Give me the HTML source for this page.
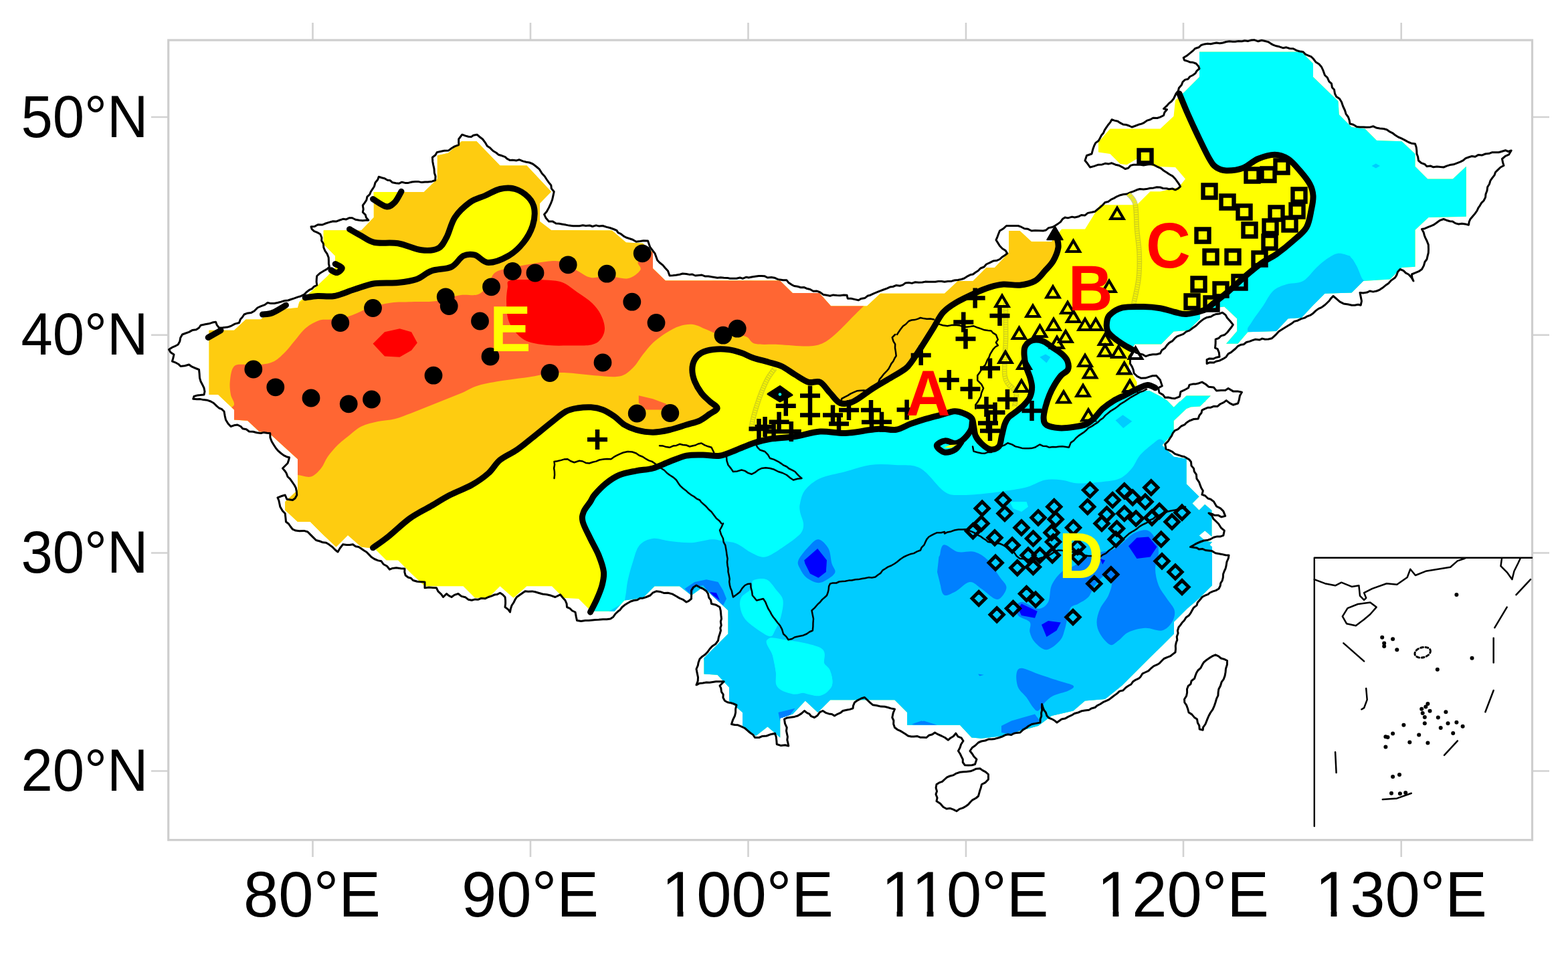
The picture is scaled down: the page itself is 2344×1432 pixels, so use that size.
<!DOCTYPE html>
<html lang="en">
<head>
<meta charset="utf-8">
<title>China regional map</title>
<style>
html,body{margin:0;padding:0;background:#fff;}
body{width:2344px;height:1432px;overflow:hidden;}
svg{display:block;}
.ax{font-family:"Liberation Sans",Arial,Helvetica,sans-serif;fill:#000;}
.lt{font-family:"Liberation Sans",Arial,Helvetica,sans-serif;font-weight:bold;}
</style>
</head>
<body>
<svg xmlns="http://www.w3.org/2000/svg" width="2344" height="1432" viewBox="0 0 2344 1432">
<rect width="2344" height="1432" fill="#fff"/>
<defs><clipPath id="land">
<path d="M312.5,590 L312.5,493.8 L350,493.8 L367.5,477.5 L390,477.5 L405,463.8 L445,460 L447.5,451.2 L465,436.2 L490,412.5 L501.2,400 L501.2,382.5 L483.8,365 L483.8,344.5 L540,344.5 L558.8,325 L558.8,287 L633.8,287 L653.8,267.5 L653.8,232.5 L670,228.8 L690,211.2 L712.5,211.2 L747.5,247.5 L787.5,247.5 L824,286.5 L807,304 L807,331 L824,344 L914.8,344.5 L936,362.5 L961,363.8 L976,377.5 L976,401.2 L994.8,419.5 L1166,419.5 L1184.8,438 L1224.8,438 L1242.2,457.5 L1296,457.5 L1316,438.8 L1412,438.8 L1432,420 L1454.5,420 L1474.5,400 L1487,400 L1508.2,377.5 L1508.2,345 L1524.5,345 L1542,361.2 L1572,361.2 L1587,342.5 L1622,342.5 L1644.5,306.2 L1699.5,306.2 L1719.5,286.2 L1734.5,286.2 L1762,280 L1772,267.5 L1757,250 L1724.5,248.8 L1699.5,237.5 L1684.5,246.2 L1674.5,245 L1659.5,230 L1642,227.5 L1642,212.5 L1659.5,192.5 L1734.5,192.5 L1754.5,173.8 L1757,150 L1770.5,137.5 L1793,115 L1793,77.5 L1945.5,77.5 L1963,95 L1963,115 L2000.5,151.2 L2001.8,171.2 L2020.5,190 L2040.5,192.5 L2058,210 L2095.5,211.2 L2115.5,230 L2115.5,248.8 L2134.2,267.5 L2171.8,267.5 L2191.8,248.8 L2191.8,323.8 L2135.5,325 L2115.5,343.8 L2115.5,398.8 L2095.5,400 L2078,417.5 L2038,420 L2020.5,437.5 L1980.5,438.8 L1963,456.2 L1945.5,475 L1925.5,476.2 L1908,495 L1865.5,496.2 L1850.5,513.8 L1833,513.8 L1849.2,495 L1849.2,476.2 L1830.5,458.8 L1830.3,458.5 L1823,459.2 L1802.7,463.6 L1794,469.4 L1794,476.6 L1776.5,494.1 L1754.7,495.5 L1735.9,514.4 L1696.6,514.4 L1689.4,524.6 L1687.9,550.7 L1699.5,571.1 L1699.5,584.1 L1718.4,584.1 L1733,591.4 L1744.6,598.6 L1754.7,608.8 L1773.6,591.4 L1809.9,591.4 L1794,607.4 L1775.1,608.8 L1760.6,623.3 L1744.6,600 L1754.7,608.7 L1763.5,600 L1802.7,600 L1773.6,610.9 L1754.7,629 L1754.7,646.5 L1737.3,665.4 L1754.7,682.8 L1773.6,685.7 L1773.6,723.5 L1792.5,742.3 L1782.3,752.5 L1792.5,762.7 L1801.2,754 L1811.4,762.7 L1811.4,801.9 L1801.2,793.2 L1792.5,800.4 L1785.2,808 L1812,810 L1792,835 L1772,817.5 L1792,800 L1812,817.5 L1812,875 L1792,895 L1774.5,910 L1755,929.5 L1755,947.5 L1737,965.5 L1719.5,982.5 L1677,1025 L1652,1045 L1622,1047.5 L1604.5,1062.5 L1572,1070 L1552,1085 L1525,1092.5 L1500,1100 L1467.5,1103.8 L1452.5,1102.5 L1435,1083.8 L1356.2,1083.8 L1356.2,1065 L1337.5,1046.2 L1241.2,1046.2 L1222.5,1065 L1203.8,1047.5 L1185,1067.5 L1166.2,1073.8 L1166.2,1102.5 L1147.5,1086.2 L1130,1100 L1110,1085 L1110,1065 L1090,1047.5 L1090,1027.5 L1072.5,1008.8 L1052.5,1007.5 L1052.5,987.5 L1052.2,983.8 L1088.5,947.5 L1088.5,912.5 L1051,877.5 L1033.5,890 L1016,876.2 L978.5,876.2 L961,893.8 L933.5,897.5 L918.5,913.8 L888.5,913.8 L880,910 L865,895 L842.5,893.8 L825,876.2 L787.5,876.2 L767.5,893.8 L747.5,876.2 L730,893.8 L710,893.8 L692.5,876.2 L635,876.2 L615,857.5 L595,837.5 L577.5,837.5 L560,820 L540,817.5 L520,800 L502.5,817.5 L482.5,798.8 L463.8,780 L445,780 L426.2,762.5 L426.2,750 L445,732.5 L445,700 L445,727.5 L445,686.2 L402.5,647.5 L387.5,645 L370,628.8 L350,627.5 L350,612.5 L326.2,590Z"/>
</clipPath>
<clipPath id="frame"><rect x="251.7" y="60" width="2038.8" height="1195.6"/></clipPath>
</defs>
<g stroke="#d2d2d2" stroke-width="2.6" fill="none">
<path d="M467.5,34 V60 M467.5,1255.6 V1281"/>
<path d="M793,34 V60 M793,1255.6 V1281"/>
<path d="M1118.5,34 V60 M1118.5,1255.6 V1281"/>
<path d="M1444,34 V60 M1444,1255.6 V1281"/>
<path d="M1769,34 V60 M1769,1255.6 V1281"/>
<path d="M2094.7,34 V60 M2094.7,1255.6 V1281"/>
<path d="M226,175 H251.7 M2290.5,175 H2316"/>
<path d="M226,500.7 H251.7 M2290.5,500.7 H2316"/>
<path d="M226,826.5 H251.7 M2290.5,826.5 H2316"/>
<path d="M226,1152.5 H251.7 M2290.5,1152.5 H2316"/>
</g>
<rect x="251.7" y="60" width="2038.8" height="1195.6" fill="none" stroke="#cecece" stroke-width="3.2"/>
<g clip-path="url(#land)">
<rect x="250" y="50" width="2050" height="1210" fill="#ffff00"/>
<path d="M882.5,915 C884.2,911.7 889.6,901.7 892.5,895 C895.4,888.3 898.3,881.7 900,875 C901.7,868.3 903.3,862.5 902.5,855 C901.7,847.5 898.3,838.3 895,830 C891.7,821.7 886.5,813.3 882.5,805 C878.5,796.7 872.9,786.7 871.2,780 C869.5,773.3 870.6,770.0 872.5,765 C874.4,760.0 879.8,754.2 882.5,750 C885.2,745.8 884.6,744.6 888.5,740 C892.4,735.4 899.8,727.5 906,722.5 C912.2,717.5 918.5,713.1 926,710 C933.5,706.9 942.7,705.5 951,703.8 C959.3,702.1 967.7,702.3 976,700 C984.3,697.7 992.7,693.1 1001,690 C1009.3,686.9 1017.7,682.9 1026,681.2 C1034.3,679.5 1042.7,680.0 1051,680 C1059.3,680.0 1067.7,682.5 1076,681.2 C1084.3,680.0 1092.7,675.6 1101,672.5 C1109.3,669.4 1117.7,665.2 1126,662.5 C1134.3,659.8 1140.6,657.9 1151,656.2 C1161.4,654.5 1176.0,654.4 1188.5,652.5 C1201.0,650.6 1213.5,645.8 1226,645 C1238.5,644.2 1251.0,647.9 1263.5,647.5 C1276.0,647.1 1291.9,643.6 1301,642.5 C1310.1,641.4 1311.5,640.9 1317.9,640.9 C1324.4,640.9 1332.5,643.5 1339.7,642.3 C1347.0,641.1 1354.2,636.2 1361.4,633.6 C1368.7,631.0 1375.9,628.6 1383.2,626.4 C1390.5,624.2 1397.7,622.5 1405,620.6 C1412.3,618.7 1420.8,615.1 1426.8,614.7 C1432.8,614.3 1436.7,616.2 1441,618 C1445.3,619.8 1450.2,622.1 1452.6,625.2 C1455.0,628.4 1454.5,632.5 1455.5,636.9 C1456.5,641.3 1456.5,647.0 1458.4,651.4 C1460.3,655.8 1463.5,659.6 1467.1,663 C1470.7,666.4 1475.8,671.0 1480.2,671.7 C1484.6,672.4 1490.4,670.8 1493.3,667.4 C1496.2,664.0 1496.1,657.0 1497.6,651.4 C1499.0,645.8 1500.3,638.6 1502,634 C1503.7,629.4 1504.9,626.9 1507.8,623.8 C1510.7,620.6 1515.5,618.2 1519.4,615.1 C1523.3,612.0 1527.7,608.5 1531.1,604.9 C1534.5,601.3 1537.9,597.6 1539.8,593.3 C1541.7,588.9 1542.7,583.6 1542.7,578.8 C1542.7,573.9 1541.2,569.3 1539.8,564.2 C1538.3,559.1 1535.5,553.9 1534,548.3 C1532.5,542.7 1531.3,535.9 1531.1,530.8 C1530.8,525.7 1530.6,521.4 1532.5,517.8 C1534.4,514.2 1538.4,510.3 1542.7,509 C1547.0,507.7 1553.5,508.1 1558.6,509.8 C1563.7,511.5 1568.3,515.9 1573.2,519.2 C1578.1,522.5 1584.0,526.0 1587.7,529.4 C1591.5,532.8 1594.2,535.6 1595.7,539.5 C1597.2,543.4 1598.0,549.0 1596.4,552.6 C1594.8,556.2 1589.6,557.4 1586.2,561.3 C1582.8,565.2 1579.0,571.0 1576.1,575.9 C1573.2,580.8 1571.0,585.1 1568.8,590.4 C1566.6,595.7 1564.5,602.0 1563,607.8 C1561.5,613.6 1559.8,620.6 1560.1,625.2 C1560.3,629.8 1560.6,633.0 1564.5,635.4 C1568.4,637.8 1576.5,639.3 1583.3,639.8 C1590.1,640.3 1598.3,639.3 1605.1,638.3 C1611.9,637.3 1618.9,636.2 1624,634 C1629.1,631.8 1631.5,629.1 1635.6,625.2 C1639.7,621.3 1643.8,615.1 1648.7,610.7 C1653.6,606.4 1659.1,602.5 1664.7,599.1 C1670.3,595.7 1676.3,593.3 1682.1,590.4 C1687.9,587.5 1693.9,584.2 1699.5,581.7 C1705.1,579.2 1710.9,575.7 1715.5,575.4 C1720.1,575.1 1725.2,579.1 1727.1,579.8 L1735,572 L2400,572 L2400,1400 L880,1400 L880,930Z" fill="#00ffff"/>
<path d="M1763,140 C1765.1,145.0 1770.9,159.6 1775.5,170 C1780.1,180.4 1785.1,191.2 1790.5,202.5 C1795.9,213.8 1803.4,229.6 1808,237.5 C1812.6,245.4 1813.8,247.1 1818,250 C1822.2,252.9 1826.3,254.8 1833,255 C1839.7,255.2 1850.1,254.1 1858,251.2 C1865.9,248.3 1872.6,240.8 1880.5,237.5 C1888.4,234.2 1898.0,231.2 1905.5,231.2 C1913.0,231.2 1919.2,233.5 1925.5,237.5 C1931.8,241.5 1937.6,248.8 1943,255 C1948.4,261.2 1954.7,268.8 1958,275 C1961.3,281.2 1962.6,286.2 1963,292.5 C1963.4,298.8 1962.2,304.6 1960.5,312.5 C1958.8,320.4 1957.6,332.1 1953,340 C1948.4,347.9 1940.5,353.3 1933,360 C1925.5,366.7 1915.7,374.6 1908,380 C1900.3,385.4 1894.7,387.1 1887,392.5 C1879.3,397.9 1870.3,405.4 1862,412.5 C1853.7,419.6 1845.3,427.9 1837,435 C1828.7,442.1 1818.2,450.2 1812,455 C1805.8,459.8 1806.2,461.2 1799.8,463.6 C1793.4,466.0 1780.9,468.9 1773.6,469.4 C1766.3,469.9 1762.7,467.9 1756.2,466.5 C1749.7,465.1 1742.2,462.0 1734.4,460.7 C1726.7,459.4 1719.1,458.6 1709.7,458.5 C1700.3,458.4 1686.3,457.8 1677.8,459.9 C1669.3,461.9 1662.8,467.0 1658.9,470.8 C1655.0,474.6 1655.0,478.4 1654.5,482.5 C1654.0,486.6 1654.1,491.6 1656,495.5 C1657.9,499.4 1662.0,502.3 1666.1,505.7 C1670.2,509.1 1676.1,513.0 1680.7,515.9 C1685.3,518.8 1691.5,521.9 1693.7,523.1 L1700,528 L1760,566 L2400,566 L2400,-50 L1762,-50Z" fill="#00ffff"/>
<path d="M557.5,818.8 C561.2,816.1 570.8,809.8 580,802.5 C589.2,795.2 602.1,782.5 612.5,775 C622.9,767.5 632.5,763.3 642.5,757.5 C652.5,751.7 662.1,745.4 672.5,740 C682.9,734.6 695.4,730.4 705,725 C714.6,719.6 722.9,713.8 730,707.5 C737.1,701.2 740.4,693.3 747.5,687.5 C754.6,681.7 764.6,677.9 772.5,672.5 C780.4,667.1 786.1,662.1 795,655 C803.9,647.9 817.5,636.7 826,630 C834.5,623.3 839.8,618.3 846,615 C852.2,611.7 857.2,611.0 863.5,610 C869.8,609.0 877.2,608.4 883.5,608.8 C889.8,609.2 895.2,610.2 901,612.5 C906.8,614.8 913.1,618.8 918.5,622.5 C923.9,626.2 928.1,631.7 933.5,635 C938.9,638.3 943.9,640.6 951,642.5 C958.1,644.4 967.7,646.2 976,646.2 C984.3,646.2 992.7,644.4 1001,642.5 C1009.3,640.6 1018.5,637.3 1026,635 C1033.5,632.7 1040.2,631.5 1046,628.8 C1051.8,626.1 1056.6,621.9 1061,618.8 C1065.4,615.7 1072.2,613.1 1072.2,610 C1072.2,606.9 1065.0,603.8 1061,600 C1057.0,596.2 1052.2,592.5 1048.5,587.5 C1044.8,582.5 1040.8,575.8 1038.5,570 C1036.2,564.2 1034.8,557.9 1034.8,552.5 C1034.8,547.1 1036.2,541.7 1038.5,537.5 C1040.8,533.3 1043.9,530.0 1048.5,527.5 C1053.1,525.0 1059.3,523.3 1066,522.5 C1072.7,521.7 1081.4,521.7 1088.5,522.5 C1095.6,523.3 1102.2,525.4 1108.5,527.5 C1114.8,529.6 1119.3,532.7 1126,535 C1132.7,537.3 1141.4,539.1 1148.5,541.2 C1155.6,543.3 1161.8,544.4 1168.5,547.5 C1175.2,550.6 1181.8,556.0 1188.5,560 C1195.2,564.0 1202.2,569.3 1208.5,571.2 C1214.8,573.1 1220.6,568.5 1226,571.2 C1231.4,573.9 1236.0,582.3 1241,587.5 C1246.0,592.7 1250.2,600.4 1256,602.5 C1261.8,604.6 1267.8,603.7 1276,600 C1284.2,596.3 1296.7,585.8 1305.2,580.4 C1313.7,575.0 1319.0,572.2 1327,567.4 C1335.0,562.6 1347.2,556.0 1353.2,551.4 C1359.2,546.8 1359.2,545.4 1363.3,539.8 C1367.4,534.2 1372.6,526.2 1377.9,518 C1383.2,509.8 1390.0,498.9 1395.3,490.4 C1400.6,481.9 1404.2,473.4 1409.8,467.1 C1415.4,460.8 1420.7,457.4 1428.7,452.6 C1436.7,447.8 1449.2,442.0 1457.7,438.1 C1466.2,434.2 1472.5,431.6 1479.5,429.4 C1486.5,427.2 1492.5,425.5 1500,425 C1507.5,424.5 1516.7,427.0 1524.5,426.2 C1532.3,425.4 1540.8,423.5 1547,420 C1553.2,416.5 1557.4,410.0 1562,405 C1566.6,400.0 1571.2,395.8 1574.5,390 C1577.8,384.2 1581.1,375.8 1582,370 C1582.9,364.2 1580.3,357.5 1580,355 L1579,345 L1579,-50 L-50,-50 L-50,1100 L555,1100Z" fill="#fecc10"/>
<path d="M522.5,342.5 C525.4,344.2 533.8,349.2 540,352.5 C546.2,355.8 550.8,360.6 560,362.5 C569.2,364.4 583.3,361.9 595,363.8 C606.7,365.7 620.0,372.6 630,373.8 C640.0,375.0 648.8,374.3 655,371.2 C661.2,368.1 663.3,362.7 667.5,355 C671.7,347.3 674.2,333.8 680,325 C685.8,316.2 695.0,307.9 702.5,302.5 C710.0,297.1 717.5,295.8 725,292.5 C732.5,289.2 740.0,284.2 747.5,282.5 C755.0,280.8 762.9,280.4 770,282.5 C777.1,284.6 785.2,290.0 790,295 C794.8,300.0 797.8,305.4 798.8,312.5 C799.8,319.6 798.9,329.2 796.2,337.5 C793.5,345.8 788.5,355.0 782.5,362.5 C776.5,370.0 768.8,377.5 760,382.5 C751.2,387.5 738.3,392.7 730,392.5 C721.7,392.3 716.2,382.9 710,381.2 C703.8,379.5 698.3,379.6 692.5,382.5 C686.7,385.4 682.9,395.1 675,398.8 C667.1,402.6 653.8,401.9 645,405 C636.2,408.1 630.8,414.6 622.5,417.5 C614.2,420.4 605.4,421.4 595,422.5 C584.6,423.6 570.8,422.1 560,423.8 C549.2,425.5 540.0,429.4 530,432.5 C520.0,435.6 509.2,440.8 500,442.5 C490.8,444.2 482.3,442.1 475,442.5 C467.7,442.9 459.3,444.6 456.2,445 L440,460 L420,400 L440,335Z" fill="#ffff00"/>
<path d="M556.2,285 L601.2,285 L590,302.5 L577.5,308.8 L557.5,297.5Z" fill="#ffff00"/>
<path d="M400,467.5 L415,455 L430,457.5 L412.5,468.8Z" fill="#ffff00"/>
<path d="M500,395 L515,400 L505,407.5Z" fill="#ffff00"/>
<path d="M350,547.5 C354.4,543.3 363.3,545.4 370,545 C376.7,544.6 383.3,545.8 390,545 C396.7,544.2 403.8,543.3 410,540 C416.2,536.7 422.5,530.0 427.5,525 C432.5,520.0 435.0,515.8 440,510 C445.0,504.2 451.2,495.2 457.5,490 C463.8,484.8 471.2,480.9 477.5,478.8 C483.8,476.7 487.5,478.6 495,477.5 C502.5,476.4 512.9,475.4 522.5,472.5 C532.1,469.6 542.1,463.3 552.5,460 C562.9,456.7 574.6,454.0 585,452.5 C595.4,451.0 603.8,451.6 615,451.2 C626.2,450.8 640.4,451.7 652.5,450 C664.6,448.3 677.1,442.9 687.5,441.2 C697.9,439.5 707.9,442.7 715,440 C722.1,437.3 725.8,430.4 730,425 C734.2,419.6 734.2,411.7 740,407.5 C745.8,403.3 750.7,402.9 765,400 C779.3,397.1 812.5,390.8 826,390 C839.5,389.2 839.8,392.5 846,395 C852.2,397.5 857.2,401.7 863.5,405 C869.8,408.3 876.0,413.8 883.5,415 C891.0,416.2 899.3,412.3 908.5,412.5 C917.7,412.7 930.4,417.6 938.5,416.2 C946.6,414.8 954.7,407.8 957.2,403.8 C959.7,399.9 952.9,395.2 953.5,392.5 C954.1,389.8 957.7,390.2 961,387.5 C964.3,384.8 969.3,379.9 973.5,376.2 C977.7,372.4 968.9,364.4 986,365 C1003.1,365.6 1044.3,373.8 1076,380 C1107.7,386.2 1146.8,395.0 1176,402.5 C1205.2,410.0 1231.8,418.3 1251,425 C1270.2,431.7 1283.8,437.5 1291,442.5 C1298.2,447.5 1294.0,452.5 1294,455 C1294.0,457.5 1294.8,453.8 1291,457.5 C1287.2,461.2 1277.7,470.8 1271,477.5 C1264.3,484.2 1257.7,491.7 1251,497.5 C1244.3,503.3 1238.1,509.2 1231,512.5 C1223.9,515.8 1219.8,517.1 1208.5,517.5 C1197.2,517.9 1176.8,515.6 1163.5,515 C1150.2,514.4 1136.8,515.9 1128.5,513.8 C1120.2,511.7 1122.2,504.8 1113.5,502.5 C1104.8,500.2 1085.6,501.7 1076,500 C1066.4,498.3 1062.7,495.0 1056,492.5 C1049.3,490.0 1042.7,485.8 1036,485 C1029.3,484.2 1022.7,485.4 1016,487.5 C1009.3,489.6 1002.7,493.3 996,497.5 C989.3,501.7 981.8,507.1 976,512.5 C970.2,517.9 966.0,523.8 961,530 C956.0,536.2 951.8,544.6 946,550 C940.2,555.4 935.6,560.6 926,562.5 C916.4,564.4 901.0,562.0 888.5,561.2 C876.0,560.4 861.4,558.1 851,557.5 C840.6,556.9 836.2,556.5 826,557.5 C815.8,558.5 802.2,561.9 790,563.8 C777.8,565.7 765.0,566.7 752.5,568.8 C740.0,570.9 725.4,573.1 715,576.2 C704.6,579.3 698.3,584.0 690,587.5 C681.7,591.0 673.3,594.2 665,597.5 C656.7,600.8 648.3,604.2 640,607.5 C631.7,610.8 623.3,614.4 615,617.5 C606.7,620.6 598.3,624.1 590,626.2 C581.7,628.3 573.3,628.1 565,630 C556.7,631.9 547.5,633.8 540,637.5 C532.5,641.2 525.8,647.9 520,652.5 C514.2,657.1 510.0,660.0 505,665 C500.0,670.0 494.2,676.7 490,682.5 C485.8,688.3 484.2,695.0 480,700 C475.8,705.0 470.8,710.8 465,712.5 C459.2,714.2 450.4,710.4 445,710 C439.6,709.6 434.6,715.0 432.5,710 C430.4,705.0 439.6,689.6 432.5,680 C425.4,670.4 405.4,662.5 390,652.5 C374.6,642.5 346.7,627.9 340,620 C333.3,612.1 349.2,610.0 350,605 C350.8,600.0 346.0,595.8 345,590 C344.0,584.2 343.0,577.1 343.8,570 C344.6,562.9 345.6,551.7 350,547.5Z" fill="#ff6633"/>
<path d="M954.8,591.2 L976,596.2 L996,603.8 L998.5,612.5 L966,612.5 L954.8,602.5Z" fill="#ff6633"/>
<path d="M761.7,419.5 C767.0,417.6 781.0,418.2 790.7,418.1 C800.4,418.0 811.3,418.1 819.8,418.8 C828.3,419.5 834.4,419.5 841.6,422.5 C848.9,425.5 856.0,431.9 863.3,437 C870.5,442.1 879.3,447.4 885.1,453 C890.9,458.6 895.1,464.1 898.2,470.4 C901.4,476.7 904.0,484.6 904,490.7 C904.0,496.8 901.6,502.6 898.2,506.7 C894.8,510.8 891.9,513.8 883.7,515.4 C875.5,517.0 859.4,516.5 848.8,516.6 C838.1,516.7 829.5,517.0 819.8,516.1 C810.1,515.2 798.5,513.9 790.7,511.1 C783.0,508.3 778.4,504.7 773.3,499.4 C768.2,494.1 762.9,487.3 760.2,479.1 C757.5,470.9 757.2,458.3 757,450.1 C756.8,441.9 758.0,434.8 758.8,429.7 C759.6,424.6 756.4,421.4 761.7,419.5Z" fill="#ff0000"/>
<path d="M557.5,513.8 L575,496.2 L597.5,491.2 L615,496.2 L623.8,512.5 L615,523.8 L597.5,533.8 L575,532.5Z" fill="#ff0000"/>
<path d="M933.5,900 C933.9,897.5 935.2,890.4 936,885 C936.8,879.6 936.8,875.0 938.5,867.5 C940.2,860.0 943.1,848.8 946,840 C948.9,831.2 951.0,820.8 956,815 C961.0,809.2 968.5,806.0 976,805 C983.5,804.0 991.4,807.8 1001,808.8 C1010.6,809.8 1023.1,811.6 1033.5,811.2 C1043.9,810.8 1055.6,806.6 1063.5,806.2 C1071.4,805.8 1074.8,807.8 1081,808.8 C1087.2,809.8 1094.3,809.8 1101,812.5 C1107.7,815.2 1114.8,821.7 1121,825 C1127.2,828.3 1133.5,831.7 1138.5,832.5 C1143.5,833.3 1145.6,832.5 1151,830 C1156.4,827.5 1164.8,821.7 1171,817.5 C1177.2,813.3 1183.9,808.8 1188.5,805 C1193.1,801.2 1196.4,798.8 1198.5,795 C1200.6,791.2 1201.4,787.5 1201,782.5 C1200.6,777.5 1196.8,770.0 1196,765 C1195.2,760.0 1194.8,757.9 1196,752.5 C1197.2,747.1 1198.5,738.8 1203.5,732.5 C1208.5,726.2 1216.0,719.6 1226,715 C1236.0,710.4 1251.0,708.3 1263.5,705 C1276.0,701.7 1288.5,696.7 1301,695 C1313.5,693.3 1326.0,694.2 1338.5,695 C1351.0,695.8 1363.8,693.3 1376,700 C1388.2,706.7 1401.8,728.3 1412,735 C1422.2,741.7 1426.6,739.6 1437,740 C1447.4,740.4 1462.0,738.8 1474.5,737.5 C1487.0,736.2 1501.6,734.2 1512,732.5 C1522.4,730.8 1528.7,730.0 1537,727.5 C1545.3,725.0 1553.7,719.2 1562,717.5 C1570.3,715.8 1578.7,716.7 1587,717.5 C1595.3,718.3 1601.6,722.1 1612,722.5 C1622.4,722.9 1639.1,721.2 1649.5,720 C1659.9,718.8 1667.4,718.3 1674.5,715 C1681.6,711.7 1687.0,705.8 1692,700 C1697.0,694.2 1699.1,686.2 1704.5,680 C1709.9,673.8 1719.5,666.4 1724.5,662.5 C1729.5,658.6 1731.1,656.4 1734.4,656.6 C1737.8,656.8 1742.9,662.7 1744.6,663.9 L2400,660 L2400,1400 L900,1400 L900,920Z" fill="#00ccff"/>
<path d="M1126,867.5 C1129.8,865.2 1140.2,863.7 1146,866.2 C1151.8,868.7 1156.9,877.3 1161,882.5 C1165.1,887.7 1169.5,890.8 1170.5,897.5 C1171.5,904.2 1169.2,915.0 1167.2,922.5 C1165.2,930.0 1161.2,937.7 1158.5,942.5 C1155.8,947.3 1155.6,951.6 1151,951.2 C1146.4,950.8 1137.2,944.4 1131,940 C1124.8,935.6 1117.6,930.4 1113.5,925 C1109.4,919.6 1107.3,912.9 1106.5,907.5 C1105.7,902.1 1105.7,897.1 1108.5,892.5 C1111.3,887.9 1120.6,884.2 1123.5,880 C1126.4,875.8 1122.2,869.8 1126,867.5Z" fill="#00ffff"/>
<path d="M1148.5,955 C1151.8,950.8 1167.2,955.8 1176,957.5 C1184.8,959.2 1193.1,962.9 1201,965 C1208.9,967.1 1218.5,965.8 1223.5,970 C1228.5,974.2 1228.1,984.6 1231,990 C1233.9,995.4 1238.9,996.7 1241,1002.5 C1243.1,1008.3 1246.0,1018.8 1243.5,1025 C1241.0,1031.2 1233.9,1038.3 1226,1040 C1218.1,1041.7 1204.3,1035.8 1196,1035 C1187.7,1034.2 1181.8,1036.7 1176,1035 C1170.2,1033.3 1163.7,1030.0 1161,1025 C1158.3,1020.0 1160.6,1012.1 1159.8,1005 C1159.0,997.9 1157.9,990.8 1156,982.5 C1154.1,974.2 1145.2,959.2 1148.5,955Z" fill="#00ffff"/>
<path d="M1150,955 C1161.7,952.9 1211.2,961.2 1225,967.5 C1238.8,973.8 1229.6,985.8 1232.5,992.5 C1235.4,999.2 1240.8,1001.7 1242.5,1007.5 C1244.2,1013.3 1245.8,1022.1 1242.5,1027.5 C1239.2,1032.9 1228.8,1038.8 1222.5,1040 C1216.2,1041.2 1211.2,1035.4 1205,1035 C1198.8,1034.6 1192.1,1039.0 1185,1037.5 C1177.9,1036.0 1166.7,1031.6 1162.5,1026.2 C1158.3,1020.8 1161.2,1012.7 1160,1005 C1158.8,997.3 1156.7,988.3 1155,980 C1153.3,971.7 1138.3,957.1 1150,955Z" fill="#00ffff"/>
<path d="M1509.5,750 L1534.5,750 L1537,757.5 L1527,765 L1514.5,760Z" fill="#00ffff"/>
<path d="M1865.5,496.2 C1863.4,489.9 1866.8,488.9 1870.5,482.5 C1874.2,476.1 1882.6,465.4 1888,457.5 C1893.4,449.6 1897.2,440.4 1903,435 C1908.8,429.6 1915.5,427.5 1923,425 C1930.5,422.5 1940.5,424.2 1948,420 C1955.5,415.8 1962.2,405.4 1968,400 C1973.8,394.6 1977.6,391.0 1983,387.5 C1988.4,384.0 1994.7,379.4 2000.5,378.8 C2006.3,378.2 2013.4,380.7 2018,383.8 C2022.6,386.9 2025.1,392.3 2028,397.5 C2030.9,402.7 2032.6,408.8 2035.5,415 C2038.4,421.2 2050.1,425.8 2045.5,435 C2040.9,444.2 2026.8,458.3 2008,470 C1989.2,481.7 1953.8,496.7 1933,505 C1912.2,513.3 1894.2,521.5 1883,520 C1871.8,518.5 1867.6,502.4 1865.5,496.2Z" fill="#00ccff"/>
<path d="M1970.5,400 L1983,387.5 L2000.5,378.8 L2018,382.5 L2028,400Z" fill="#00ccff"/>
<path d="M2050.5,248 L2056.8,244.5 L2063,248 L2056.8,251.5Z" fill="#00ccff"/>
<path d="M1554.3,533.7 L1563,529.4 L1570.3,533.7 L1564.5,542.5Z" fill="#00ccff"/>
<path d="M1667.6,628.3 L1678.5,620.3 L1692.3,629.8 L1679.2,639.9Z" fill="#00ccff"/>
<path d="M1193.5,837.5 C1195.6,832.1 1203.5,822.7 1208.5,817.5 C1213.5,812.3 1218.5,805.8 1223.5,806.2 C1228.5,806.6 1235.2,814.0 1238.5,820 C1241.8,826.0 1241.8,836.7 1243.5,842.5 C1245.2,848.3 1249.3,851.2 1248.5,855 C1247.7,858.8 1242.7,862.3 1238.5,865 C1234.3,867.7 1228.9,871.4 1223.5,871.2 C1218.1,871.0 1210.6,867.3 1206,863.8 C1201.4,860.3 1198.1,854.4 1196,850 C1193.9,845.6 1191.4,842.9 1193.5,837.5Z" fill="#0080ff"/>
<path d="M1023.5,880 L1038.5,870 L1056,866.2 L1073.5,870 L1081,882.5 L1086,895 L1081,905 L1066,892.5 L1051,875 L1038.5,877.5 L1033.5,890Z" fill="#0080ff"/>
<path d="M1163.5,1065 L1188.5,1058.8 L1176,1075 L1166,1077.5Z" fill="#0080ff"/>
<path d="M1412,817.5 L1403.5,832.5 L1401,855 L1406,875 L1412,880Z" fill="#0080ff"/>
<path d="M1363.5,1083.8 L1381,1077.5 L1401,1083.8Z" fill="#0080ff"/>
<path d="M1409.5,815 C1414.1,810.8 1424.1,823.3 1432,825 C1439.9,826.7 1449.5,822.9 1457,825 C1464.5,827.1 1470.8,831.2 1477,837.5 C1483.2,843.8 1489.9,855.8 1494.5,862.5 C1499.1,869.2 1504.1,872.5 1504.5,877.5 C1504.9,882.5 1499.9,889.6 1497,892.5 C1494.1,895.4 1492.0,897.1 1487,895 C1482.0,892.9 1473.2,884.2 1467,880 C1460.8,875.8 1456.2,869.2 1449.5,870 C1442.8,870.8 1433.7,882.1 1427,885 C1420.3,887.9 1413.2,893.3 1409.5,887.5 C1405.8,881.7 1404.5,862.1 1404.5,850 C1404.5,837.9 1404.9,819.2 1409.5,815Z" fill="#0080ff"/>
<path d="M1572,875 C1575.3,867.5 1581.2,860.0 1587,855 C1592.8,850.0 1600.3,848.8 1607,845 C1613.7,841.2 1620.3,835.8 1627,832.5 C1633.7,829.2 1641.2,826.7 1647,825 C1652.8,823.3 1657.0,824.6 1662,822.5 C1667.0,820.4 1671.6,816.7 1677,812.5 C1682.4,808.3 1688.2,800.8 1694.5,797.5 C1700.8,794.2 1709.1,791.2 1714.5,792.5 C1719.9,793.8 1724.1,799.6 1727,805 C1729.9,810.4 1732.0,817.5 1732,825 C1732.0,832.5 1727.0,841.7 1727,850 C1727.0,858.3 1729.1,867.5 1732,875 C1734.9,882.5 1740.5,888.8 1744.5,895 C1748.5,901.2 1754.5,906.7 1755.8,912.5 C1757.0,918.3 1755.1,925.0 1752,930 C1748.9,935.0 1743.7,941.0 1737,942.5 C1730.3,944.0 1720.3,938.4 1712,938.8 C1703.7,939.2 1693.7,941.9 1687,945 C1680.3,948.1 1676.6,954.4 1672,957.5 C1667.4,960.6 1664.1,965.5 1659.5,963.8 C1654.9,962.1 1647.8,953.1 1644.5,947.5 C1641.2,941.9 1639.5,936.2 1639.5,930 C1639.5,923.8 1641.6,916.7 1644.5,910 C1647.4,903.3 1654.1,896.7 1657,890 C1659.9,883.3 1662.8,875.0 1662,870 C1661.2,865.0 1656.2,859.2 1652,860 C1647.8,860.8 1641.2,869.6 1637,875 C1632.8,880.4 1631.2,887.9 1627,892.5 C1622.8,897.1 1616.6,899.6 1612,902.5 C1607.4,905.4 1602.8,903.8 1599.5,910 C1596.2,916.2 1594.5,932.1 1592,940 C1589.5,947.9 1589.1,952.3 1584.5,957.5 C1579.9,962.7 1570.8,970.8 1564.5,971.2 C1558.2,971.6 1551.2,964.4 1547,960 C1542.8,955.6 1540.8,950.0 1539.5,945 C1538.2,940.0 1542.4,934.2 1539.5,930 C1536.6,925.8 1525.3,924.2 1522,920 C1518.7,915.8 1518.2,908.3 1519.5,905 C1520.8,901.7 1524.1,899.2 1529.5,900 C1534.9,900.8 1545.8,910.0 1552,910 C1558.2,910.0 1563.7,905.8 1567,900 C1570.3,894.2 1568.7,882.5 1572,875Z" fill="#0080ff"/>
<path d="M1519.5,1007.5 C1520.3,1002.7 1521.6,998.8 1527,998.8 C1532.4,998.8 1542.8,1004.4 1552,1007.5 C1561.2,1010.6 1573.2,1014.6 1582,1017.5 C1590.8,1020.4 1602.0,1022.5 1604.5,1025 C1607.0,1027.5 1602.0,1030.0 1597,1032.5 C1592.0,1035.0 1580.3,1037.1 1574.5,1040 C1568.7,1042.9 1565.8,1046.2 1562,1050 C1558.2,1053.8 1554.9,1061.2 1552,1062.5 C1549.1,1063.8 1547.4,1060.8 1544.5,1057.5 C1541.6,1054.2 1538.2,1047.5 1534.5,1042.5 C1530.8,1037.5 1524.5,1033.3 1522,1027.5 C1519.5,1021.7 1518.7,1012.3 1519.5,1007.5Z" fill="#0080ff"/>
<path d="M1497,1085 L1512,1077.5 L1547,1067.5 L1554.5,1077.5 L1512,1097.5 L1497,1095Z" fill="#0080ff"/>
<path d="M1362.5,1082.5 L1377.5,1077.5 L1400,1083.8Z" fill="#0080ff"/>
<path d="M1163.8,1065 L1187.5,1060 L1175,1071.2 L1166.2,1073.8Z" fill="#0080ff"/>
<path d="M1462,1007.5 L1470.8,1008.8 L1464.5,1010.5Z" fill="#0080ff"/>
<path d="M1202.2,837.5 L1222.2,820 L1236,837.5 L1234.8,855 L1223.5,863.8 L1211,857.5 L1203.5,842.5Z" fill="#0000ff"/>
<path d="M1061,885 L1071,886.2 L1076,897.5 L1066,890Z" fill="#0000ff"/>
<path d="M1687,816.2 L1699.5,803.8 L1717,802.5 L1729.5,817.5 L1719.5,832.5 L1699.5,835Z" fill="#0000ff"/>
<path d="M1522,910 L1527,902.5 L1550.8,913.8 L1547,923.8 L1527,920Z" fill="#0000ff"/>
<path d="M1557,933.8 L1567,928 L1585.8,930.5 L1579.5,942.5 L1564.5,952Z" fill="#0000ff"/>
<path d="M1644.5,835 L1652,837.5 L1648.2,843.8Z" fill="#0000ff"/>
</g>
<g fill="none" stroke="#000" stroke-width="3" stroke-linejoin="round" stroke-linecap="round">
<path d="M435,447.5 L430.6,449 L425.5,449.5 L420.2,451.1 L415,452.5 L410,453.5 L405.1,453.6 L400,452.5 L395.9,455.6 L389.7,457.9 L385,460 L380,465 L375.6,467.4 L369.3,468.3 L365,470 L362.4,474 L359.4,477.2 L357.5,482.5 L351.2,484.1 L345,487.5 L339.8,489.1 L333,489.7 L327.5,490 L324.3,485.9 L322.5,481.2 L317.6,482.1 L312.5,483.8 L306.8,484.8 L300,486.2 L297.5,490 L293.3,492.8 L287.4,493.6 L282.5,496.4 L277.8,498 L272.5,500 L269.7,505 L268.8,510.3 L266.2,515 L261.2,517.7 L257.1,519.4 L252.5,522.5 L255.1,526.7 L260,530 L258.8,535.4 L257.5,540 L262.1,541.8 L266.6,544.2 L270,547.5 L276.5,546.8 L282.5,545 L286.9,548.2 L292.4,550.5 L297.5,552.5 L298.1,558.3 L298.5,564.9 L300,570 L302.7,575.2 L305,580 L306,585.3 L305,590 L299.3,590.6 L295.2,590.9 L290,592.5 L288.8,596.2 L294.3,596.7 L299.4,596.6 L304.1,597.6 L310.3,598.3 L315,600 L319.4,602.5 L323.9,606.8 L327.5,610 L331.7,611.7 L335,615 L336.2,621.8 L337.5,627.5 L341,633.3 L345,637.5 L349.8,635.8 L355,635 L360,637.5 L362.8,640.7 L368.2,641.7 L372.5,645 L378.4,645.2 L383.8,646.8 L390,647.5 L394.5,646.4 L399.3,647.2 L403.8,647.5 L404,654.2 L406.2,660 L409.4,665.2 L412.5,670 L415.5,673.6 L420,677.5 L424.1,680.6 L428.3,682.7 L432.5,683.8 L431.5,688.1 L430,692.5 L425,697.5 L422.5,700 L425.9,703.9 L428.1,707.3 L430,712.5 L433.6,715.9 L436.6,720.1 L440,725 L442.3,729.3 L443.4,734.6 L443.8,740 L441.2,744.8 L437.5,747.5 L428.8,746.2 L426.2,740 L421,741.5 L415,743.8 L416.8,748 L417.7,752.3 L418.8,757.5 L422.3,763.5 L426.2,767.5 L426.9,773.7 L427.5,780 L431.2,782.7 L434.2,787 L437.5,791.2 L441.9,793.1 L447.5,793.8 L454.5,793.4 L460,795 L463.8,798.9 L467.8,802.9 L472.5,807.5 L478.1,809 L482.6,810.8 L487.5,811.2 L492.1,814.1 L497,817.7 L500.9,821.8 L505,825 L508.2,819.5 L512.5,813.8 L518.2,814.5 L522.9,814.6 L527.5,813.8 L531.6,816.7 L536.1,817.4 L540,820 L543.5,822.5 L548,825.2 L551.8,829.1 L555,832.5 L559.5,835.5 L565.2,837.9 L570,838.8 L573.3,843.5 L578.5,846.3 L582.5,851.2 L586.9,849.4 L592.5,848.8 L599.3,849.7 L605,850 L604.8,855.1 L606.2,860 L610.1,863 L614.4,864.3 L617.5,867.5 L623.6,869.3 L629.1,869.7 L635,870 L635,878.8 L641.2,878.1 L647.1,878.4 L652.5,878.8 L654.9,883.9 L659.7,888.3 L662.5,892.5 L667.5,887.5 L670.6,890.2 L675,892.5 L679.2,889.4 L685,887.5 L689.9,891.4 L695.8,892.8 L700,896.2 L705.2,897.3 L710.1,895.9 L715,896.2 L719.1,894.3 L725.5,894.7 L730,892.5 L735,890.8 L739.2,889 L743,888.6 L747.5,886.2 L751.4,888.7 L755,892.5 L755.6,897.6 L755.6,902.4 L755,907.5 L759.8,911.1 L762.5,915 L763.4,910 L765,905 L768,900.5 L770.1,896.1 L772.5,892.5 L776.7,889.6 L780.3,887.1 L785,883.8 L789.6,884.2 L795.5,883.9 L800.1,884.8 L805,886.2 L811.2,888 L817.5,888.8 L823.9,890.3 L830,892.5 L837.5,888.8 L841.4,893.5 L845,897.5 L847.1,902.4 L847.5,907.5 L851.7,909.3 L855.5,913 L860,915 L861.2,921.6 L862.5,927.5 L868.7,928.4 L875,927.5 L880,927.4 L885.3,926.9 L890,926.4 L895,926.2 L901.4,925.7 L907.2,925.8 L912.5,925 L916.7,922.2 L920,917.5 L923.9,913.8 L926.9,911.7 L930,907.5 L933.9,904.3 L938,901.8 L942.8,899 L947.5,897.5 L952.8,896.7 L956.8,894.2 L961,894.2 L966,892.5 L972,890 L976.2,885.8 L981,883.8 L986.8,884.4 L993,886.6 L998.5,886.2 L1005,887.9 L1011,891.2 L1015.8,894.1 L1021.1,896.3 L1026,900 L1029.5,898.3 L1033.5,895 L1033.6,888.8 L1033.5,882.5 L1036.3,878.1 L1041,875 L1045.9,877.8 L1051,880 L1055.9,883.5 L1058.5,887.5 L1059.7,893.3 L1062.6,896.9 L1063.5,902.5 L1070.5,904.2 L1076,907.5 L1077.3,912.8 L1077.9,919.7 L1078.5,925 L1077.3,929.1 L1078.2,934.7 L1076.8,938.8 L1077.5,942.5 L1076,947.5 L1074.4,952.3 L1073.5,957.5 L1069.6,962.8 L1064.7,965.9 L1061,970 L1057.6,974.8 L1053.9,978.6 L1050,981.2 L1046,985 L1044,990.5 L1043.3,994.7 L1041,1000 L1042.1,1005.9 L1043.5,1012.5 L1043.2,1017.9 L1041,1023.8 L1045.3,1021.6 L1050.6,1020.9 L1056,1020 L1060.7,1020.3 L1065.6,1019.4 L1070.3,1018.8 L1076,1018.8 L1082.2,1018.8 L1076,1025 L1077.8,1028.7 L1078.5,1034.2 L1081.2,1038.2 L1080.9,1042.8 L1083.5,1047.5 L1087.5,1049.7 L1092.7,1050.8 L1096.7,1052 L1101,1053.8 L1099.6,1059.8 L1099.6,1065.1 L1098.5,1070 L1095.5,1076.2 L1093.5,1082.5 L1098.3,1083.5 L1103.2,1083.8 L1108.5,1086.2 L1113.5,1088.5 L1116.8,1091.3 L1121,1095 L1125.8,1098.4 L1128.5,1102.5 L1134.7,1102.5 L1139.7,1100.4 L1146,1100 L1152.1,1097.7 L1158.5,1096.2 L1160.2,1101.4 L1160.9,1107.6 L1161.2,1112.5 L1167,1114.4 L1173.7,1113.7 L1178.8,1115 L1177.9,1110.7 L1176.8,1106.1 L1177.4,1101.3 L1176.4,1096.7 L1175.5,1092.5 L1176.2,1087.5 L1173.5,1081.7 L1172.5,1075 L1176.6,1072.9 L1182,1072.2 L1187.6,1071.4 L1192.5,1070 L1198,1066.6 L1202.5,1062.5 L1206.4,1065.7 L1209.9,1067.2 L1212.7,1070.7 L1217.5,1072.5 L1222.1,1069.4 L1225.5,1064.7 L1230,1062.5 L1234.2,1065.3 L1238.9,1066.9 L1243.5,1067.4 L1247.5,1070 L1252.1,1067.3 L1256.6,1065.4 L1260,1062.5 L1265.6,1061.3 L1270.4,1060.4 L1275,1058.8 L1275.5,1054.9 L1277.5,1050 L1282,1046.8 L1287.5,1044 L1292.5,1042.5 L1296.7,1046.5 L1300.8,1050.4 L1305,1053.8 L1310.2,1054.5 L1316.9,1056.1 L1322.5,1056.2 L1327.5,1057.5 L1331.8,1058.9 L1337.5,1060 L1335.2,1065.8 L1333.8,1072.5 L1335.9,1077 L1335.7,1082.2 L1337.5,1087.5 L1341.9,1090.8 L1345.7,1092.4 L1350,1095 L1354,1097.6 L1357.5,1100 L1362.2,1101 L1366.1,1101.1 L1371,1100.4 L1375.5,1102.2 L1379.7,1102.2 L1385,1102.5 L1388.4,1099.3 L1393.8,1097.7 L1397.5,1095 L1402.1,1097.7 L1407.4,1100 L1412.5,1102.5 L1417.5,1106.2 L1420.8,1103.2 L1425.3,1100.5 L1428.8,1096.2 L1432.2,1101.2 L1437,1102.9 L1440,1107.5 L1436.6,1112.7 L1435.2,1117.3 L1432.5,1122.5 L1435.4,1127 L1437.2,1130.8 L1439.3,1135 L1439.3,1139.5 L1442.5,1143.8 L1447.6,1144.1 L1452.9,1143.8 L1457.5,1142.5 L1460,1135 L1455.8,1130.8 L1453.7,1127.2 L1450,1122.5 L1453.4,1117.5 L1458.1,1114.3 L1462.5,1110 L1467.1,1108 L1472.9,1107 L1477.6,1105.1 L1482.5,1105 L1487.2,1104.4 L1493.1,1102.7 L1497.5,1101.3 L1502.5,1098.8 L1506.8,1097.8 L1511.8,1098.4 L1515.8,1096.2 L1519.8,1095.4 L1525,1095 L1529.2,1090.9 L1534,1088 L1537.5,1085.3 L1542.5,1082.5 L1548.3,1081.4 L1555,1080 L1555.2,1074.8 L1556.8,1070.5 L1556.6,1065.7 L1557.7,1061.7 L1557.5,1057.7 L1557.5,1052.5 L1558.9,1057 L1560.8,1061.7 L1563.3,1064.9 L1565,1070 L1567.8,1073 L1572.4,1074.8 L1576.8,1077.3 L1580,1080 L1587,1075 L1592.1,1074.1 L1596.9,1071.4 L1601.9,1069.2 L1606.3,1066.5 L1612,1065 L1617.3,1062.7 L1621.6,1062.1 L1627.9,1061.2 L1631.5,1059 L1637,1057.5 L1640.3,1054.7 L1644.7,1052.5 L1648.9,1049.7 L1654.2,1047.4 L1658,1045.6 L1662,1042.5 L1666.1,1039.4 L1670,1036.6 L1673.7,1033.1 L1678.9,1032 L1683,1027.8 L1687,1025 L1690.8,1023 L1693.5,1019.1 L1697.5,1016.3 L1702.3,1014.1 L1704.9,1011.8 L1708,1006.8 L1712,1005 L1716.7,1002.9 L1719.9,999.7 L1724.8,995.7 L1729.5,993.7 L1733.2,991.5 L1737,987.5 L1740.1,984.5 L1745.2,982.4 L1749.8,980.7 L1753.5,977.6 L1757,975 L1757.5,970.2 L1757.3,965.1 L1758.3,960.3 L1759.8,956.6 L1759.2,951.8 L1761.1,946.6 L1760.4,942.7 L1762,937.5 L1765,933.9 L1767.3,930.5 L1770.3,927.5 L1773,923 L1777.2,920.1 L1779.8,916.6 L1782,912.5 L1784.3,908.4 L1789,904.9 L1790.2,900.8 L1794.1,896.3 L1797,892.5 L1800.8,890.4 L1806,888.4 L1808.6,886 L1813.4,883.9 L1817.6,882.6 L1822,880 L1824.2,875.6 L1824.7,871.8 L1827.2,867.7 L1828.3,863.4 L1828.6,858 L1830.3,853.5 L1832,850 L1833.1,845.4 L1833.9,840 L1836.3,834.5 L1837,830 L1832,829.8 L1826.2,828.4 L1822.4,827.7 L1816.9,826.7 L1811.7,823.6 L1806.4,822.9 L1802,822.5 L1797.9,820.6 L1792.3,821.1 L1789.3,819.1 L1784.2,818.2 L1779.5,817.5 L1784.2,815 L1788.7,812.4 L1794.3,810 L1799.8,808 L1804.5,807.6 L1809.4,806 L1814.3,803.3 L1819.5,801.9 L1824,802.1 L1828.8,800.4 L1830.3,793.2 L1825.2,788.8 L1821.6,783 L1817.3,778.8 L1813.9,775.6 L1811.8,770.9 L1807,767 L1812.2,768.4 L1815.7,770.3 L1820.9,770.2 L1825.9,772.8 L1831.7,771.4 L1828.8,764.1 L1824.5,759.9 L1818.6,756.9 L1814.3,749.6 L1809.8,746.3 L1805.7,745 L1801.6,741 L1796.9,739.4 L1798.3,733.6 L1795.7,729.2 L1794.2,725.4 L1792.5,720.6 L1788.9,715.4 L1788.4,709.4 L1785.2,704.6 L1784.6,700.4 L1781,696.1 L1780.5,690.5 L1778,687.1 L1770.7,682.8 L1766.1,681.7 L1761,680 L1756.2,678.4 L1752.7,675.3 L1747.5,672.8 L1743.1,671.2 L1741.7,663.9 L1746.1,659.7 L1748.9,655.2 L1751.4,651.7 L1753.3,647.4 L1756.2,643.6 L1760.9,641.6 L1765.8,637 L1770.7,634.9 L1773.5,631.9 L1778,629 L1784.4,626.5 L1791.1,626.1 L1792.9,621 L1796,617.2 L1796.9,613.1 L1800.5,611.3 L1805.3,609.3 L1810,609.2 L1814.3,607.3 L1820.1,607.4 L1824,604 L1829.2,601.6 L1833.2,598.6 L1838.3,602.6 L1843.3,605.2 L1850.6,603 L1852.3,597.8 L1853.5,591.4 L1856.4,586.3 L1850.2,584.9 L1843.3,584.9 L1836.1,580.5 L1831.7,583.4 L1825.3,583.6 L1818.6,584.1 L1814.3,579 L1807,578.3 L1802.6,574.5 L1796.9,571.1 L1792.6,572.7 L1787.1,574.1 L1782.9,574.1 L1778,575.4 L1776.5,579.8 L1770.2,583.2 L1764.9,585.6 L1763.5,592.8 L1756.2,595.7 L1751.7,595.3 L1746.4,594 L1741.7,594.3 L1738.5,590.1 L1733,587 L1731.5,579.8 L1737.3,576.9 L1735.7,572.1 L1734.4,568.1 L1728.6,561.6 L1722.8,561.7 L1718.4,563.1 L1712.3,565.1 L1705.4,565.2 L1700.1,562.6 L1695.2,558 L1694.2,552.7 L1692.3,548.1 L1689.4,543.5 L1689.5,538.3 L1687.9,533.3 L1691.4,528.3 L1695.2,524.6 L1698.6,527.3 L1704,528.9 L1708.4,529.9 L1712.6,532.6 L1717.5,530.8 L1723.5,529.8 L1728.6,529.7 L1734.4,528.2 L1736.8,523.6 L1741.2,520.6 L1744.6,515.9 L1747.9,512.4 L1752.8,509.6 L1756.2,505.7 L1759.6,502.8 L1764.9,500.8 L1768.9,499.3 L1773.5,495.6 L1778,494.1 L1782.7,490.5 L1788.1,486.8 L1792.2,482.7 L1795.7,479.6 L1799.8,476.6 L1804.4,474.4 L1810.4,473.3 L1814.3,470.8 L1818.2,469.4 L1822.8,469 L1827.4,467.2 L1832.2,470.9 L1834.6,475.2 L1839.4,480.5 L1843.3,485.4 L1840.3,489.8 L1837.9,492.8 L1834.6,497 L1830.7,500.5 L1825.2,502.1 L1821.9,505.5 L1817.2,507.1 L1817.1,513.7 L1816.5,520.2 L1820.1,521.7 L1822.3,527 L1823,533.3 L1817.7,534.5 L1813.8,536.3 L1808,536 L1804.1,537.6 L1804.1,543.5 L1808.2,541.8 L1814.4,542.1 L1817.7,540.3 L1823,539.1 L1828.8,536.2 L1833,533.4 L1836.1,528.9 L1840.4,526.6 L1843.5,524 L1847.1,521 L1850.6,517.3 L1855.3,515.2 L1859.2,514.7 L1863.3,511.5 L1867.9,510.4 L1872.4,508.6 L1876.8,507.3 L1882.7,508.1 L1886.9,506.1 L1891.2,507.3 L1896.1,507 L1901.4,505.7 L1905,502.4 L1908.2,499.3 L1911.6,495.5 L1916.3,492.4 L1921.1,489.4 L1925.6,486.7 L1930.5,483.9 L1935,480.4 L1939.8,479.2 L1945,476.6 L1950.4,475.1 L1954.2,472.8 L1959.5,470.8 L1963.1,468.2 L1967.1,464.4 L1971.2,461.4 L1975.4,459.6 L1980,456.3 L1983.1,453.5 L1987.2,449.5 L1989.3,446.4 L1993,442.5 L1997.9,446.7 L2003,451.2 L2008.5,453.9 L2015.5,455 L2020.8,456.2 L2025.2,456.2 L2030.2,455.2 L2034.2,456.2 L2035.5,450 L2034.1,443.1 L2033,437.5 L2037.6,438 L2043.7,437.1 L2047.7,435 L2052.6,436.1 L2058,435 L2062.6,433.1 L2066.7,430.3 L2071.6,426.3 L2075.5,423.8 L2079.8,419.1 L2085.5,415 L2087.9,411.1 L2089.4,406.5 L2093,402.5 L2098.1,404.6 L2101.6,408.1 L2105.5,410 L2110.1,414.9 L2113,420 L2110.9,415.2 L2110.5,410 L2115.5,407.9 L2121,405.7 L2125.5,402.5 L2128.4,397.1 L2130,391.5 L2133,387.5 L2134.1,382.7 L2135.3,377.9 L2135.5,372.5 L2135.3,365.9 L2133,360 L2130.7,355.4 L2129.3,351.7 L2128.1,347.2 L2125.5,342.5 L2129.8,341.7 L2135,339.4 L2138.9,337.9 L2143,336.2 L2147.2,333.3 L2152,329.7 L2158,327.5 L2162.3,329.2 L2167.5,330.7 L2171.4,331.1 L2175.3,333.6 L2180.5,335 L2185.4,334.2 L2190.4,334.9 L2195.5,336.2 L2196.2,331.6 L2198,327.5 L2201.2,323.8 L2204.9,319.4 L2208,315 L2210.1,310.3 L2212.2,307.6 L2214.8,303.1 L2218,300 L2220.6,294.9 L2221,290.2 L2223,285 L2223.7,279.5 L2226.4,275.2 L2228,270 L2230.7,266.1 L2234,261.9 L2235.5,257.5 L2239.7,253.4 L2243.2,250 L2248,247.5 L2246.6,242.9 L2245.5,237.5 L2250.3,233.3 L2255.5,231.2 L2259.2,225 L2254.7,226.5 L2250.5,224.7 L2245.5,226.2 L2240.5,227.7 L2235.3,227.7 L2230.8,227.7 L2225.8,229.6 L2220.5,230 L2215.2,232.1 L2210.1,231.4 L2205.3,234.2 L2200.4,233.4 L2195.5,235 L2190.9,236.7 L2187.5,239.7 L2183.2,241.9 L2178,243.8 L2172.8,245.8 L2167.4,246.6 L2163.2,247.9 L2158,250 L2153.1,249.6 L2148,248.9 L2142.8,249.8 L2138.4,248 L2133,248.8 L2129.9,245.5 L2124.6,243.6 L2120.5,240 L2119.6,234.3 L2118,230 L2117.8,225.1 L2117.2,220.1 L2115.5,215 L2109.8,214.2 L2105.5,212.5 L2100.4,209.6 L2095.1,206.9 L2090.5,205 L2085.7,202 L2081.6,198.8 L2077,196.6 L2073,193.8 L2068.3,192.5 L2062.7,191.9 L2057.2,190.9 L2053,188.8 L2048.7,189.9 L2042.5,190.3 L2038.5,190 L2033,190 L2028.3,189.6 L2023,186.2 L2018,185 L2017.1,179.6 L2015.5,175 L2012.1,170.3 L2010.5,165 L2007.5,158.5 L2005.5,152.5 L2002.4,147.5 L1997.7,144.4 L1995.5,140 L1994.5,134.1 L1991.4,130.7 L1990.5,125 L1986.9,121.9 L1984.2,115.8 L1980.5,112.5 L1978.1,105.7 L1975.5,100 L1971.8,95.8 L1966.9,92.7 L1963,87.5 L1959.9,84.7 L1955.4,82.9 L1951.4,81.1 L1948,77.5 L1942.6,76.7 L1938.2,75.4 L1933.3,72.7 L1928,72.5 L1923,70.8 L1917.9,71.7 L1912.6,69.8 L1908,68.8 L1903.2,67.1 L1899.6,65.1 L1895.7,62.6 L1890.5,61.2 L1886,60.2 L1880.8,61.8 L1874.9,59.7 L1870.5,60 L1865.9,61.4 L1860.7,60.7 L1856.5,61.7 L1851.3,61.6 L1846.5,62.2 L1842.8,62.3 L1837.7,61.7 L1833,62.5 L1828.2,64 L1823.4,64.8 L1818.5,64 L1814.4,64.7 L1809.7,65.8 L1805.3,65.3 L1800.7,65.9 L1795.5,67.5 L1792,70.8 L1786.6,72.5 L1783,76.2 L1778.1,80.1 L1774.2,83.3 L1769.2,86.2 L1770.5,90 L1775.2,91.4 L1779.3,93.1 L1783.5,93.3 L1788,95 L1791.4,98.7 L1793,102.5 L1789.2,105.8 L1786.9,109.6 L1783,112.5 L1778.8,114.5 L1776,118.2 L1771.6,119.1 L1768,122.5 L1766.3,127 L1762.4,131.4 L1761.4,135.6 L1758,140 L1754.5,147.5 L1751.3,151.5 L1747.3,154.6 L1743.8,158.7 L1739.5,162.5 L1744.5,163.8 L1740.9,167.9 L1739.5,172.5 L1734.2,175.1 L1729.9,176.5 L1723.8,176.3 L1719.5,178.8 L1714.8,180.1 L1710.4,183.3 L1706.5,185.1 L1701.9,186.3 L1696.3,188.5 L1692,190 L1687.9,188 L1683.6,186.5 L1678.7,185.9 L1674.5,183.7 L1671,181.2 L1666,180.1 L1662,178.8 L1659.9,182.6 L1656.3,187 L1653.8,190.7 L1651.2,194.6 L1649.5,198.8 L1646.5,202.3 L1644.3,206.7 L1642.1,210.5 L1637.8,213.6 L1635.8,217.5 L1633.7,223.3 L1632,230 L1624.5,232.5 L1622,240 L1625.9,244.8 L1629.5,250 L1635.7,248.4 L1642,246.2 L1647.6,245.9 L1652.1,244.3 L1656.9,245.1 L1662,243.8 L1667.6,246.2 L1672.5,247.2 L1677.7,249.8 L1682,252.5 L1686.6,251.3 L1690,247.4 L1694.5,246.2 L1699.8,246.3 L1704.7,246.2 L1709.5,247 L1715.1,246 L1719.8,245.5 L1724.5,246.2 L1729.9,249.1 L1735.5,251.7 L1739.5,255 L1743.6,257.5 L1748.4,260.7 L1753.2,263.4 L1757,267.5 L1759.8,271.4 L1762.1,274.6 L1764.5,278.8 L1760.8,282 L1757,283.8 L1752.6,282 L1747.5,282.8 L1743.9,281.8 L1738.5,281.5 L1734.5,280 L1729.3,279.7 L1724.4,280.9 L1719.5,281.2 L1713.9,282.6 L1709.4,282.9 L1704,282.5 L1699.5,283.8 L1694.8,285.8 L1689.9,287.6 L1684.5,290 L1679.5,290.5 L1674.6,291.7 L1669.5,293.8 L1665.6,296.1 L1661.2,298.1 L1656.6,301.5 L1652,302.5 L1648.8,306.1 L1644.8,309.7 L1640.7,313 L1637,316.2 L1632.1,317.3 L1626.2,318.4 L1621.9,321.9 L1616.4,321.5 L1612,323.8 L1606.6,325 L1602.6,324.1 L1596.4,325.9 L1592,325 L1588.3,327.6 L1585.5,331.6 L1580.8,335.1 L1577,337.5 L1573.2,339.5 L1567.5,340.6 L1563.7,344 L1559.5,345 L1553.3,344.8 L1547.3,344.6 L1542,345 L1536.8,342.3 L1531.5,341.8 L1526.7,339.2 L1522,337.5 L1515.6,337.6 L1510.7,337.4 L1504.5,337.5 L1500.3,341.4 L1494.5,345 L1492.9,349 L1491.1,353.8 L1489,358.8 L1491.8,363.1 L1494.5,367.5 L1498.6,371.7 L1503.2,374.6 L1505.8,378.8 L1502,381.8 L1497.7,384.6 L1494.5,387.5 L1489.7,389.6 L1484.7,390.1 L1479.2,392.9 L1474.5,395 L1471,399 L1465.8,401 L1462.2,404.7 L1458.5,407 L1454.5,410 L1450.4,410.8 L1445.4,413.4 L1441.1,416.2 L1437,417.5 L1432.1,418.5 L1426.6,419 L1422.2,420.4 L1417,420.6 L1412,421.2 L1407.6,420.4 L1402.7,420.4 L1398.2,421.2 L1392.5,421.2 L1388.5,421.2 L1383.1,421.1 L1378.8,422 L1373.4,422.3 L1368.1,421.8 L1363.2,423.4 L1358.5,422.5 L1353.6,422.9 L1349.7,425.9 L1345.3,427.2 L1339.5,426.6 L1334.8,428.5 L1330.3,429.1 L1326,431.2 L1320.7,433 L1315.7,434.8 L1311.2,436.7 L1305.9,438.8 L1301,441.2 L1296.9,442.3 L1293.1,445.4 L1287.1,446.5 L1283.5,448.8 L1278.3,447.6 L1272.4,446.3 L1267.2,446.2 L1266,441.2 L1261.3,441.1 L1256.1,441.7 L1251.1,441.6 L1245.4,440.9 L1240.9,442.2 L1236,441.2 L1231.1,440.6 L1226.1,437 L1221.4,435.1 L1215.8,435.3 L1211,432.5 L1205.7,431.2 L1201.7,429.4 L1197.2,429.8 L1192.4,428.3 L1187.2,427.5 L1183.5,425.6 L1178.8,422.4 L1176,418.8 L1170.5,418.8 L1166,418.1 L1162.5,417.4 L1157.7,415.2 L1153.1,414.4 L1147.3,415 L1142.8,412.7 L1138.5,412.5 L1134.3,412.4 L1128.8,413.2 L1123.9,414 L1119.2,415 L1115.7,414.2 L1110.3,416.4 L1106.2,415 L1101,416.2 L1096,416.3 L1091.1,416.3 L1087.5,415.4 L1082.1,415.3 L1077.3,414.8 L1072.4,415.2 L1068,414.4 L1063.5,413.8 L1059,413 L1053.7,412.9 L1049.2,411.1 L1045.1,411.5 L1039.3,412 L1035,410.1 L1030.5,410.4 L1026,409.5 L1020.4,409 L1016.2,410.2 L1010.5,411.2 L1005.8,411.8 L1001,412 L998.5,405 L994.1,400.3 L990.9,396.4 L986,392.5 L982.7,389 L980.8,383.7 L978.9,378.6 L976,375 L971.8,369.5 L969.8,363.8 L968.5,360 L962.1,359.7 L957.1,360.6 L951,361.2 L945.9,358.2 L940.6,356.5 L936,355 L932.5,353.1 L928.2,349.7 L924.1,347.9 L921.8,344.4 L917.2,342.5 L911.6,340.5 L906.8,339.4 L901,337.5 L895.7,338.1 L891.2,336.9 L885.7,338.5 L881.6,337 L875.7,337.4 L871.3,336.8 L866.2,337.7 L861.4,337.7 L856.6,337.8 L850.8,337.1 L845.9,336.1 L840.9,335.2 L835.7,334.3 L831.1,334 L826,330.9 L820.5,330.9 L816.2,326.1 L813.6,320.6 L817.3,316.3 L820.5,310.4 L823.2,304.7 L825.6,298.5 L826.8,293.2 L828.2,286.5 L824.4,281.9 L823.8,277 L820.5,272.9 L817.4,268.5 L814.2,263.5 L810.2,259.2 L806.5,253.2 L801.7,249 L796.4,245 L791.5,243 L786.8,242.3 L781.5,240.9 L776.1,238.7 L772.2,239.9 L766.5,239.2 L762.5,239.6 L757.8,237.2 L755.3,234.6 L750.4,232.8 L745.1,231.2 L742,228.5 L737,225.5 L732.6,221.1 L728.3,218.3 L725.3,213.1 L721.5,208 L717.5,205 L713,201.2 L707.7,202.2 L704.4,204.6 L700.3,204.2 L695.4,202.9 L690.8,201.2 L685.7,208 L685.7,216.6 L679.6,218.9 L675.6,221.3 L670.3,225.1 L664.2,225.3 L658.2,226.5 L653.2,227.6 L650.9,231.8 L646.4,235.3 L646.8,241.7 L647.7,246.5 L649,252.4 L649.4,258.5 L651,263.5 L650.7,269.5 L645.8,271.2 L639.6,272 L635.3,272 L630.5,272.6 L625.9,271.6 L620.9,271.5 L615.7,272 L610.4,273.4 L605.6,273.4 L600.8,272.2 L596.7,274.2 L591.8,273.7 L586.7,272.8 L583.4,269.8 L579.2,269.2 L575,266.7 L571,265.8 L566.2,264.3 L564.7,268.5 L561,273 L559.5,278.5 L557.2,282.2 L554.3,286.5 L552.7,290.7 L548.9,294.1 L547.8,299.2 L544.8,303.6 L542.3,307 L543.2,312.8 L542.3,317.2 L546.3,321.1 L547.4,325.1 L550.8,329.2 L546.6,329.3 L542.1,329.8 L537.2,329.2 L531.3,328.2 L526.6,325.7 L521.8,325.8 L517.6,327.9 L512.8,327.3 L507.9,329 L503.1,330.9 L497.8,330.8 L491.8,332.4 L486,334.3 L481.6,336.1 L475.3,335.8 L470.5,338.4 L465,338.8 L466.2,342.5 L469.6,345.6 L474.1,347.4 L478.8,350 L480.9,355.2 L480.7,359.7 L483.4,364.2 L483.8,370 L486,375.1 L489,379.4 L491.2,385 L491.4,389.9 L491.4,394.4 L492.5,398.8 L489,402.1 L483.8,405 L478.6,408.2 L473.8,412.5 L473.3,416.5 L473.1,421.4 L473.8,426.2 L469.2,428.6 L466.8,431.3 L462,433.7 L458.5,436.4 L455,440 L449.8,442.7 L445.5,443.9 L440,445.9Z"/>
<path d="M1817,978.8 L1821.5,980.9 L1825.3,984 L1830.2,985.4 L1834.5,987.5 L1834.4,993.5 L1832.5,999.5 L1832,1005 L1831.1,1010.1 L1829,1015.7 L1826.2,1019.3 L1824.5,1025 L1821.8,1030.3 L1821.1,1035.1 L1820.9,1039.6 L1818.6,1044.4 L1817,1050 L1815.3,1055 L1813,1060.4 L1809.4,1065.5 L1807,1070 L1805.1,1074.4 L1803.4,1078.7 L1801.9,1082.5 L1798.6,1087.2 L1798.2,1091.2 L1793.2,1090 L1792.7,1084.5 L1790.4,1080.5 L1789.5,1075 L1785.5,1072.4 L1781.7,1067.9 L1777,1065 L1775.7,1059.8 L1773.7,1054.2 L1770.8,1050 L1770.5,1045.2 L1773.6,1040.2 L1774.6,1035.3 L1774.5,1030 L1776.3,1025.3 L1779.9,1022.6 L1781.1,1017.7 L1785.6,1014.3 L1787,1010 L1788.6,1005.8 L1790.9,1002 L1794.8,998.7 L1797.1,994.1 L1799.5,990 L1803.8,986.4 L1808,983.6 L1812.1,980.9Z"/>
<path d="M1400,1172.5 L1404,1169.9 L1408.5,1168.4 L1412.1,1165 L1415.6,1161.9 L1420,1160 L1425.5,1158.6 L1429.5,1156.1 L1435.1,1154.3 L1440,1153.8 L1444.5,1153.4 L1450.8,1152.8 L1455.2,1151.1 L1459.2,1149.2 L1465,1148.8 L1468.6,1151.4 L1473.4,1153.8 L1477.5,1157.5 L1477.5,1165 L1473.2,1169.6 L1467.5,1172.5 L1466.3,1177.4 L1464.9,1181.4 L1463.7,1185.8 L1462.5,1190 L1459,1193 L1453.7,1195.8 L1450.5,1199 L1447.5,1202.5 L1443.7,1205.2 L1439.5,1207.6 L1434.2,1209.4 L1430,1212.5 L1425.4,1210.2 L1419.9,1208.2 L1415,1209 L1410,1206.2 L1405.7,1201.2 L1400,1197.5 L1401.1,1192.6 L1399,1187.3 L1400.6,1182.8 L1399.1,1177.7Z"/>
</g>
<g fill="none" stroke="#000" stroke-width="2.5" stroke-linejoin="round" stroke-linecap="round">
<path d="M828.5,715 L829.1,709.8 L828.9,704.6 L828.1,699.9 L829.1,694.6 L828.5,690 L833.2,689.2 L838.9,687.9 L843.2,686.6 L848.5,686.2 L853.1,689.3 L858.5,691.2 L866,688.8 L870.9,689.5 L875.7,691.9 L881,692.5 L886.1,690.7 L891.1,689.6 L896,687.5 L901.9,686.4 L907.2,685.9 L913.5,686.2 L917.6,683.2 L921.8,680.9 L926,678.8 L931.7,676.5 L938.5,675 L945.1,675.5 L951,677.5 L955.5,680.8 L960.8,682.7 L966,686.2 L969.9,688.4 L974.7,689.9 L978.5,692.5 L983.4,696.3 L988.5,700 L993.1,703 L996.7,706.7 L1001,710 L1006.7,713.6 L1011,717.5 L1014,722.2 L1017.1,726.4 L1021,730 L1025,732.9 L1029.2,736.8 L1033.5,740 L1038.1,742.7 L1041.2,745.3 L1046,747.5 L1048.6,750.9 L1052.4,754.2 L1056,757.5 L1059.8,761.8 L1063.5,765 L1067.4,770.2 L1071,775 L1075.4,778.4 L1078.5,782.5"/>
<path d="M986,666.2 L991.3,666.6 L995.9,668.1 L1001,668.8 L1006.1,666.6 L1011.2,665.9 L1016,663.8 L1020.8,665 L1026.1,665.5 L1031,667.5 L1035,666.5 L1039.6,665.5 L1043.6,663.5 L1048.5,662.5 L1053.4,665.4 L1058.4,667.3 L1063.5,668.8 L1067.2,676.2"/>
<path d="M1129.8,663.8 L1132.1,668.3 L1136,672.5 L1143.5,675 L1148.1,679.9 L1151,685 L1157.1,686.9 L1163.5,690 L1167.4,692.6 L1171.3,695.4 L1176,697.5 L1179.6,700.5 L1184.6,702.9 L1188.5,705 L1191.9,708.8 L1194.6,711.6 L1198.5,715 L1192,715.7 L1186,717.5 L1181.1,714.2 L1176,710 L1169.9,707 L1163.5,705 L1157.3,701.8 L1151,700 L1144.7,699.3 L1138.5,700 L1133.2,702.7 L1128.3,706.4 L1123.5,708.8 L1118.1,706.9 L1113.6,703.9 L1108.5,702.5 L1102.1,704.4 L1096,705 L1092.6,700.1 L1088.5,695 L1086.5,688.9 L1086,682.5"/>
<path d="M1338.2,500 L1333.8,504.4 L1335.5,510.1 L1338.2,514.5 L1338,520 L1339,526.1 L1339.7,532 L1337.4,535.5 L1335.3,540 L1332.4,543.6 L1330.4,547.7 L1328.4,551.4 L1325.1,555.2 L1321.5,558.8 L1318.2,563.1 L1315,566.8 L1313.2,571.6 L1310.6,577 L1305.5,579 L1300.7,581.6 L1296.1,584.2 L1291.4,583.4 L1286.6,583.8 L1281.6,584.2 L1276.3,586.4 L1271.4,588.6 L1267.5,591.1 L1262.5,593.6 L1258.3,595.9 L1256.9,601.7"/>
<path d="M1396,477.5 L1390.7,476.5 L1385.5,476.7 L1380.8,476.1 L1376,475 L1371.6,476.9 L1367.2,478.1 L1362.5,478.5 L1358.5,480 L1354.2,484.5 L1349.9,487.5 L1346,492.5 L1343.2,496.6 L1341,500"/>
<path d="M1081,782.5 L1078.5,788 L1076,792.5 L1077.9,798.7 L1081,805 L1081.7,810.3 L1084.3,815.2 L1085.1,819.7 L1086,825 L1086.6,830.1 L1087.6,835.1 L1087,840.1 L1087.5,845.2 L1088.5,850 L1088.5,854.7 L1089.7,859.9 L1090.7,865.4 L1090.2,869.6 L1091,875 L1092.1,879.3 L1093.9,883.3 L1094.7,887.7 L1096,892.5 L1101.1,888.8 L1106,885 L1109.5,879.4 L1113.5,875 L1117.3,873.1 L1122.2,872.5 L1122.5,878.1 L1124.1,884.2 L1124.8,890 L1128,893.7 L1131,897.5 L1136,896.3 L1141,895 L1144.3,900 L1146.1,904.5 L1148.5,910 L1151.3,914.4 L1153.3,918.4 L1156,922.5 L1159.2,926.4 L1162.4,930.8 L1166,935 L1169,940.7 L1171,947.5 L1175.4,951.6 L1178.5,956.2 L1183.9,955 L1188,952.5 L1193.5,951.2 L1199.8,950.1 L1206,947.5 L1210.2,944.5 L1214.8,942.5 L1215.4,936.6 L1215.5,931 L1216,925 L1214.7,918.8 L1213.5,912.5 L1217.8,908.6 L1222,903.7 L1226,900 L1229.1,896.1 L1232.8,893 L1236,890 L1237.6,885.7 L1238.6,881.5 L1239.1,876.4 L1241,872.5 L1245.1,871.4 L1250.2,871.5 L1254.4,869.5 L1259.3,869 L1263.5,868.8 L1268.9,867.6 L1273.1,867.5 L1278.9,866.3 L1283.2,866.1 L1288.5,865 L1293.3,864.2 L1298.5,863.1 L1303.3,863.5 L1308.5,862.5 L1312.6,859.2 L1316.2,856.9 L1319.6,852.3 L1323.5,850 L1327.5,847.4 L1332.3,845.5 L1337,842.7 L1341,840 L1345.8,836 L1351,832.5 L1356.1,830.1 L1360.7,828.3 L1366,827.1 L1371,824.4 L1376,822.5 L1377.7,818.3 L1381.6,814.3 L1383.3,810.4 L1385.4,806.1 L1388.5,802.5 L1392.6,800.2 L1396.5,798.1 L1401,796.2 L1406.8,796.2 L1412,795"/>
<path d="M1403.2,484.4 L1409.4,486.2 L1416.3,487.3 L1422.1,486.1 L1427.9,485.8 L1434.9,486.6 L1441,488.7 L1445.4,488.7 L1450.7,488.1 L1455.5,487.3 L1461.6,489.8 L1467.1,491.6 L1471.7,493.3 L1477,494.1 L1481.7,494.5 L1484.5,497.7 L1488.9,500.3 L1491.8,507.6 L1488.9,512 L1491.8,516.3 L1488,518.5 L1484.6,522.1 L1480.2,529.4 L1478.5,534.1 L1475.9,538.1 L1473,545.4 L1469.4,549 L1467.1,552.6 L1464.2,557.3 L1461.3,561.3 L1461.3,568.6 L1467.1,574.4 L1470.1,580.2 L1467.1,587.5 L1466.2,592.5 L1464.2,596.2 L1461.6,600.8 L1458.4,604.9 L1458.4,610.7"/>
<path d="M1454.1,667.4 L1455.5,674.6 L1461.4,676.3 L1467.1,677.5 L1471.7,677.8 L1477.1,675.8 L1481.7,676.1 L1486.3,673 L1491.4,670.9 L1496.2,667.4 L1501.6,665.4 L1506.4,662.3 L1512.8,664.4 L1518,667.4 L1522.4,668.4 L1527.8,669.9 L1532.5,670.3 L1537.5,670.2 L1541.8,670.1 L1547,668.8 L1554.3,664.5 L1559,666.7 L1564.2,667 L1568.8,668.8 L1573.8,668.1 L1578.5,668.2 L1583.3,667.4 L1588.1,667.2 L1593.3,668 L1597.9,668.8 L1600.8,661.6 L1605.3,658.5 L1608.3,655 L1612.4,651.4 L1616.1,648.9 L1619.9,646.4 L1623.4,643.6 L1626.9,639.8 L1631.8,637.4 L1636.6,634.1 L1641.4,631.1 L1644.8,627.6 L1648.9,625 L1652.4,620.9 L1656,618 L1660.4,614.3 L1665.7,611.2 L1670.5,607.8 L1675.2,603.8 L1679.8,601.2 L1685,597.6 L1689.3,594.7 L1694.2,591.8 L1699.5,588.9 L1704.2,586.1 L1709.2,584.5 L1714.1,581.7"/>
<path d="M1412,797.5 L1416.5,795.4 L1421.8,794.4 L1427,792.5 L1432.8,791.5 L1438.4,791.5 L1444.5,791.2 L1449.2,793.4 L1453.2,794.9 L1457.7,797 L1462,800 L1466.5,802.2 L1470.1,805 L1473.9,807.2 L1477,810 L1483,810.9 L1488.4,811.9 L1494.5,812.5 L1499.2,814.7 L1503.1,816.8 L1507.5,820.4 L1512,822.5 L1516.5,826.4 L1519.7,831.1 L1524.5,835 L1530.3,835.2 L1536.1,836.1 L1542,837.5 L1547.1,835.5 L1552,835.5 L1556.7,833.6 L1562,832.5 L1567.6,830.5 L1571.8,827.9 L1577,824.4 L1582,822.5 L1587.2,822.7 L1591.6,823.6 L1597.5,823.9 L1602,825 L1607.2,826 L1611.8,827.9 L1617.3,828.8 L1622,830 L1626.5,830.9 L1630.9,831.1 L1635.7,831.4 L1640.4,831.6 L1644.5,832.5 L1648.5,829.3 L1653.3,827.1 L1657.6,823 L1662,820 L1665.9,816.6 L1669.7,814 L1673.1,809.7 L1677,807.5 L1680.5,804.3 L1684,801.1 L1687.6,797.9 L1692,795 L1696,792.8 L1700.1,789.9 L1703.8,786.8 L1708,784.4 L1712,782.5 L1716.1,780.5 L1719.3,777.3 L1724,775.3 L1727,772.5 L1731.4,771 L1735.9,768.5 L1740.3,766.5 L1744.5,765 L1750.4,763.5 L1756.2,762.5 L1762,761.2 L1767.5,759.7 L1772,757.5"/>
</g>
<g fill="none">
<path d="M1687,290 C1688.7,292.5 1694.9,296.2 1697,305 C1699.1,313.8 1698.5,330.0 1699.5,342.5 C1700.5,355.0 1702.8,367.5 1703.2,380 C1703.6,392.5 1703.5,405.0 1702,417.5 C1700.5,430.0 1695.8,448.8 1694.5,455" stroke="#b4b428" stroke-opacity="0.62" stroke-width="7.6"/>
<path d="M1687,290 C1688.7,292.5 1694.9,296.2 1697,305 C1699.1,313.8 1698.5,330.0 1699.5,342.5 C1700.5,355.0 1702.8,367.5 1703.2,380 C1703.6,392.5 1703.5,405.0 1702,417.5 C1700.5,430.0 1695.8,448.8 1694.5,455" stroke="#f6f600" stroke-width="5" stroke-dasharray="2.2 1.3"/>
<path d="M1158.1,550.8 C1156.4,553.2 1151.1,559.8 1147.9,565.4 C1144.8,571.0 1142.1,577.0 1139.2,584.2 C1136.3,591.5 1132.9,601.1 1130.5,608.9 C1128.1,616.6 1126.0,624.7 1124.7,630.7 C1123.4,636.8 1122.9,642.8 1122.5,645.2" stroke="#b4b428" stroke-opacity="0.62" stroke-width="7.6"/>
<path d="M1158.1,550.8 C1156.4,553.2 1151.1,559.8 1147.9,565.4 C1144.8,571.0 1142.1,577.0 1139.2,584.2 C1136.3,591.5 1132.9,601.1 1130.5,608.9 C1128.1,616.6 1126.0,624.7 1124.7,630.7 C1123.4,636.8 1122.9,642.8 1122.5,645.2" stroke="#f6f600" stroke-width="5" stroke-dasharray="2.2 1.3"/>
<path d="M1503.5,451 C1503.5,455.8 1503.5,470.3 1503.5,480 C1503.5,489.7 1503.8,499.3 1503.5,509 C1503.2,518.7 1502.2,529.4 1502,538.1 C1501.8,546.8 1501.3,555.5 1502,561.3 C1502.7,567.1 1504.2,569.6 1506.4,573 C1508.6,576.4 1512.9,578.8 1515.1,581.7 C1517.3,584.6 1519.2,586.0 1519.4,590.4 C1519.6,594.8 1517.0,604.9 1516.5,607.8" stroke="#b4b428" stroke-opacity="0.62" stroke-width="7.6"/>
<path d="M1503.5,451 C1503.5,455.8 1503.5,470.3 1503.5,480 C1503.5,489.7 1503.8,499.3 1503.5,509 C1503.2,518.7 1502.2,529.4 1502,538.1 C1501.8,546.8 1501.3,555.5 1502,561.3 C1502.7,567.1 1504.2,569.6 1506.4,573 C1508.6,576.4 1512.9,578.8 1515.1,581.7 C1517.3,584.6 1519.2,586.0 1519.4,590.4 C1519.6,594.8 1517.0,604.9 1516.5,607.8" stroke="#f6f600" stroke-width="5" stroke-dasharray="2.2 1.3"/>
</g>
<g fill="none" stroke="#000" stroke-width="9" stroke-linejoin="round" stroke-linecap="round">
<path d="M522.5,342.5 C525.4,344.2 533.8,349.2 540,352.5 C546.2,355.8 550.8,360.6 560,362.5 C569.2,364.4 583.3,361.9 595,363.8 C606.7,365.7 620.0,372.6 630,373.8 C640.0,375.0 648.8,374.3 655,371.2 C661.2,368.1 663.3,362.7 667.5,355 C671.7,347.3 674.2,333.8 680,325 C685.8,316.2 695.0,307.9 702.5,302.5 C710.0,297.1 717.5,295.8 725,292.5 C732.5,289.2 740.0,284.2 747.5,282.5 C755.0,280.8 762.9,280.4 770,282.5 C777.1,284.6 785.2,290.0 790,295 C794.8,300.0 797.8,305.4 798.8,312.5 C799.8,319.6 798.9,329.2 796.2,337.5 C793.5,345.8 788.5,355.0 782.5,362.5 C776.5,370.0 768.8,377.5 760,382.5 C751.2,387.5 738.3,392.7 730,392.5 C721.7,392.3 716.2,382.9 710,381.2 C703.8,379.5 698.3,379.6 692.5,382.5 C686.7,385.4 682.9,395.1 675,398.8 C667.1,402.6 653.8,401.9 645,405 C636.2,408.1 630.8,414.6 622.5,417.5 C614.2,420.4 605.4,421.4 595,422.5 C584.6,423.6 570.8,422.1 560,423.8 C549.2,425.5 540.0,429.4 530,432.5 C520.0,435.6 509.2,440.8 500,442.5 C490.8,444.2 482.3,442.1 475,442.5 C467.7,442.9 459.3,444.6 456.2,445"/>
<path d="M557.5,297.5 C560.8,299.4 572.1,308.0 577.5,308.8 C582.9,309.6 586.2,306.3 590,302.5 C593.8,298.7 598.3,288.9 600,286.2"/>
<path d="M495,403.8 C496.5,404.4 501.1,408.1 503.8,407.5 C506.5,406.9 511.6,402.7 511.2,400.5 C510.8,398.3 502.9,395.5 501.2,394.5"/>
<path d="M392.5,470 C395.0,469.6 401.7,469.8 407.5,467.5 C413.3,465.2 424.2,458.1 427.5,456.2"/>
<path d="M311.2,504.5 L330,493.8"/>
<path d="M557.5,818.8 C561.2,816.1 570.8,809.8 580,802.5 C589.2,795.2 602.1,782.5 612.5,775 C622.9,767.5 632.5,763.3 642.5,757.5 C652.5,751.7 662.1,745.4 672.5,740 C682.9,734.6 695.4,730.4 705,725 C714.6,719.6 722.9,713.8 730,707.5 C737.1,701.2 740.4,693.3 747.5,687.5 C754.6,681.7 764.6,677.9 772.5,672.5 C780.4,667.1 786.1,662.1 795,655 C803.9,647.9 817.5,636.7 826,630 C834.5,623.3 839.8,618.3 846,615 C852.2,611.7 857.2,611.0 863.5,610 C869.8,609.0 877.2,608.4 883.5,608.8 C889.8,609.2 895.2,610.2 901,612.5 C906.8,614.8 913.1,618.8 918.5,622.5 C923.9,626.2 928.1,631.7 933.5,635 C938.9,638.3 943.9,640.6 951,642.5 C958.1,644.4 967.7,646.2 976,646.2 C984.3,646.2 992.7,644.4 1001,642.5 C1009.3,640.6 1018.5,637.3 1026,635 C1033.5,632.7 1040.2,631.5 1046,628.8 C1051.8,626.1 1056.6,621.9 1061,618.8 C1065.4,615.7 1072.2,613.1 1072.2,610 C1072.2,606.9 1065.0,603.8 1061,600 C1057.0,596.2 1052.2,592.5 1048.5,587.5 C1044.8,582.5 1040.8,575.8 1038.5,570 C1036.2,564.2 1034.8,557.9 1034.8,552.5 C1034.8,547.1 1036.2,541.7 1038.5,537.5 C1040.8,533.3 1043.9,530.0 1048.5,527.5 C1053.1,525.0 1059.3,523.3 1066,522.5 C1072.7,521.7 1081.4,521.7 1088.5,522.5 C1095.6,523.3 1102.2,525.4 1108.5,527.5 C1114.8,529.6 1119.3,532.7 1126,535 C1132.7,537.3 1141.4,539.1 1148.5,541.2 C1155.6,543.3 1161.8,544.4 1168.5,547.5 C1175.2,550.6 1181.8,556.0 1188.5,560 C1195.2,564.0 1202.2,569.3 1208.5,571.2 C1214.8,573.1 1220.6,568.5 1226,571.2 C1231.4,573.9 1236.0,582.3 1241,587.5 C1246.0,592.7 1250.2,600.4 1256,602.5 C1261.8,604.6 1267.8,603.7 1276,600 C1284.2,596.3 1296.7,585.8 1305.2,580.4 C1313.7,575.0 1319.0,572.2 1327,567.4 C1335.0,562.6 1347.2,556.0 1353.2,551.4 C1359.2,546.8 1359.2,545.4 1363.3,539.8 C1367.4,534.2 1372.6,526.2 1377.9,518 C1383.2,509.8 1390.0,498.9 1395.3,490.4 C1400.6,481.9 1404.2,473.4 1409.8,467.1 C1415.4,460.8 1420.7,457.4 1428.7,452.6 C1436.7,447.8 1449.2,442.0 1457.7,438.1 C1466.2,434.2 1472.5,431.6 1479.5,429.4 C1486.5,427.2 1492.5,425.5 1500,425 C1507.5,424.5 1516.7,427.0 1524.5,426.2 C1532.3,425.4 1540.8,423.5 1547,420 C1553.2,416.5 1557.4,410.0 1562,405 C1566.6,400.0 1571.2,395.8 1574.5,390 C1577.8,384.2 1581.1,375.8 1582,370 C1582.9,364.2 1580.3,357.5 1580,355"/>
<path d="M882.5,915 C884.2,911.7 889.6,901.7 892.5,895 C895.4,888.3 898.3,881.7 900,875 C901.7,868.3 903.3,862.5 902.5,855 C901.7,847.5 898.3,838.3 895,830 C891.7,821.7 886.5,813.3 882.5,805 C878.5,796.7 872.9,786.7 871.2,780 C869.5,773.3 870.6,770.0 872.5,765 C874.4,760.0 879.8,754.2 882.5,750 C885.2,745.8 884.6,744.6 888.5,740 C892.4,735.4 899.8,727.5 906,722.5 C912.2,717.5 918.5,713.1 926,710 C933.5,706.9 942.7,705.5 951,703.8 C959.3,702.1 967.7,702.3 976,700 C984.3,697.7 992.7,693.1 1001,690 C1009.3,686.9 1017.7,682.9 1026,681.2 C1034.3,679.5 1042.7,680.0 1051,680 C1059.3,680.0 1067.7,682.5 1076,681.2 C1084.3,680.0 1092.7,675.6 1101,672.5 C1109.3,669.4 1117.7,665.2 1126,662.5 C1134.3,659.8 1140.6,657.9 1151,656.2 C1161.4,654.5 1176.0,654.4 1188.5,652.5 C1201.0,650.6 1213.5,645.8 1226,645 C1238.5,644.2 1251.0,647.9 1263.5,647.5 C1276.0,647.1 1291.9,643.6 1301,642.5 C1310.1,641.4 1311.5,640.9 1317.9,640.9 C1324.4,640.9 1332.5,643.5 1339.7,642.3 C1347.0,641.1 1354.2,636.2 1361.4,633.6 C1368.7,631.0 1375.9,628.6 1383.2,626.4 C1390.5,624.2 1397.7,622.5 1405,620.6 C1412.3,618.7 1420.8,615.1 1426.8,614.7 C1432.8,614.3 1436.7,616.2 1441,618 C1445.3,619.8 1450.2,622.1 1452.6,625.2 C1455.0,628.4 1454.5,632.5 1455.5,636.9 C1456.5,641.3 1456.5,647.0 1458.4,651.4 C1460.3,655.8 1463.5,659.6 1467.1,663 C1470.7,666.4 1475.8,671.0 1480.2,671.7 C1484.6,672.4 1490.4,670.8 1493.3,667.4 C1496.2,664.0 1496.1,657.0 1497.6,651.4 C1499.0,645.8 1500.3,638.6 1502,634 C1503.7,629.4 1504.9,626.9 1507.8,623.8 C1510.7,620.6 1515.5,618.2 1519.4,615.1 C1523.3,612.0 1527.7,608.5 1531.1,604.9 C1534.5,601.3 1537.9,597.6 1539.8,593.3 C1541.7,588.9 1542.7,583.6 1542.7,578.8 C1542.7,573.9 1541.2,569.3 1539.8,564.2 C1538.3,559.1 1535.5,553.9 1534,548.3 C1532.5,542.7 1531.3,535.9 1531.1,530.8 C1530.8,525.7 1530.6,521.4 1532.5,517.8 C1534.4,514.2 1538.4,510.3 1542.7,509 C1547.0,507.7 1553.5,508.1 1558.6,509.8 C1563.7,511.5 1568.3,515.9 1573.2,519.2 C1578.1,522.5 1584.0,526.0 1587.7,529.4 C1591.5,532.8 1594.2,535.6 1595.7,539.5 C1597.2,543.4 1598.0,549.0 1596.4,552.6 C1594.8,556.2 1589.6,557.4 1586.2,561.3 C1582.8,565.2 1579.0,571.0 1576.1,575.9 C1573.2,580.8 1571.0,585.1 1568.8,590.4 C1566.6,595.7 1564.5,602.0 1563,607.8 C1561.5,613.6 1559.8,620.6 1560.1,625.2 C1560.3,629.8 1560.6,633.0 1564.5,635.4 C1568.4,637.8 1576.5,639.3 1583.3,639.8 C1590.1,640.3 1598.3,639.3 1605.1,638.3 C1611.9,637.3 1618.9,636.2 1624,634 C1629.1,631.8 1631.5,629.1 1635.6,625.2 C1639.7,621.3 1643.8,615.1 1648.7,610.7 C1653.6,606.4 1659.1,602.5 1664.7,599.1 C1670.3,595.7 1676.3,593.3 1682.1,590.4 C1687.9,587.5 1693.9,584.2 1699.5,581.7 C1705.1,579.2 1710.9,575.7 1715.5,575.4 C1720.1,575.1 1725.2,579.1 1727.1,579.8"/>
<path d="M1453.3,631.1 C1453.1,632.8 1453.2,637.8 1451.9,641.2 C1450.6,644.6 1447.8,648.5 1445.4,651.4 C1443.0,654.3 1440.3,657.0 1437.4,658.9 C1434.5,660.8 1432.0,662.7 1427.9,662.7 C1423.8,662.7 1417.3,658.3 1412.7,658.9 C1408.1,659.5 1400.4,663.3 1400.3,666.2 C1400.2,669.1 1407.4,675.1 1412,676.1 C1416.6,677.1 1423.7,674.7 1427.9,672 C1432.1,669.3 1435.8,662.1 1437.4,660.1"/>
<path d="M1411,669 L1421,665 L1431,664.5 L1422,669.5 Z" fill="#ffff00" stroke="none"/>
<path d="M1763,140 C1765.1,145.0 1770.9,159.6 1775.5,170 C1780.1,180.4 1785.1,191.2 1790.5,202.5 C1795.9,213.8 1803.4,229.6 1808,237.5 C1812.6,245.4 1813.8,247.1 1818,250 C1822.2,252.9 1826.3,254.8 1833,255 C1839.7,255.2 1850.1,254.1 1858,251.2 C1865.9,248.3 1872.6,240.8 1880.5,237.5 C1888.4,234.2 1898.0,231.2 1905.5,231.2 C1913.0,231.2 1919.2,233.5 1925.5,237.5 C1931.8,241.5 1937.6,248.8 1943,255 C1948.4,261.2 1954.7,268.8 1958,275 C1961.3,281.2 1962.6,286.2 1963,292.5 C1963.4,298.8 1962.2,304.6 1960.5,312.5 C1958.8,320.4 1957.6,332.1 1953,340 C1948.4,347.9 1940.5,353.3 1933,360 C1925.5,366.7 1915.7,374.6 1908,380 C1900.3,385.4 1894.7,387.1 1887,392.5 C1879.3,397.9 1870.3,405.4 1862,412.5 C1853.7,419.6 1845.3,427.9 1837,435 C1828.7,442.1 1818.2,450.2 1812,455 C1805.8,459.8 1806.2,461.2 1799.8,463.6 C1793.4,466.0 1780.9,468.9 1773.6,469.4 C1766.3,469.9 1762.7,467.9 1756.2,466.5 C1749.7,465.1 1742.2,462.0 1734.4,460.7 C1726.7,459.4 1719.1,458.6 1709.7,458.5 C1700.3,458.4 1686.3,457.8 1677.8,459.9 C1669.3,461.9 1662.8,467.0 1658.9,470.8 C1655.0,474.6 1655.0,478.4 1654.5,482.5 C1654.0,486.6 1654.1,491.6 1656,495.5 C1657.9,499.4 1662.0,502.3 1666.1,505.7 C1670.2,509.1 1676.1,513.0 1680.7,515.9 C1685.3,518.8 1691.5,521.9 1693.7,523.1"/>
</g>
<path d="M1577,338 L1589,358.5 L1565,358.5 Z" fill="#000" stroke="#000" stroke-width="1.5" stroke-linejoin="round"/>
<path d="M1148,589 L1166,577.5 L1184,590.5 L1166,600 Z" fill="#000" stroke="#000" stroke-width="3" stroke-linejoin="round"/><circle cx="1166" cy="589.5" r="2.3" fill="#00ffff"/>
<g fill="#000">
<circle cx="557.5" cy="460.5" r="13.4"/>
<circle cx="508.8" cy="482.5" r="13.4"/>
<circle cx="666.2" cy="443.8" r="13.4"/>
<circle cx="671.2" cy="457.5" r="13.4"/>
<circle cx="734.5" cy="428.8" r="13.4"/>
<circle cx="766.2" cy="405.5" r="13.4"/>
<circle cx="800" cy="408" r="13.4"/>
<circle cx="717.5" cy="480" r="13.4"/>
<circle cx="960.2" cy="378.8" r="13.4"/>
<circle cx="849.2" cy="395.8" r="13.4"/>
<circle cx="907.2" cy="409.2" r="13.4"/>
<circle cx="944.8" cy="451.2" r="13.4"/>
<circle cx="981" cy="482.5" r="13.4"/>
<circle cx="378.8" cy="552" r="13.4"/>
<circle cx="411.8" cy="578.8" r="13.4"/>
<circle cx="465" cy="595" r="13.4"/>
<circle cx="521.2" cy="603.8" r="13.4"/>
<circle cx="555.5" cy="597" r="13.4"/>
<circle cx="648" cy="561.2" r="13.4"/>
<circle cx="733" cy="533" r="13.4"/>
<circle cx="822" cy="557.5" r="13.4"/>
<circle cx="1081" cy="501.2" r="13.4"/>
<circle cx="1102.2" cy="491.2" r="13.4"/>
<circle cx="901" cy="542" r="13.4"/>
<circle cx="952.2" cy="618" r="13.4"/>
<circle cx="1001.8" cy="617.5" r="13.4"/>
</g>
<g fill="none" stroke="#000" stroke-width="6.5">
<path d="M878,657h30M893,642v30M1119.5,641h30M1134.5,626v30M1288,631h30M1303,616v30M1159.8,606.8h30M1174.8,591.8v30M1149.6,630.7h30M1164.6,615.7v30M1196,591.5h30M1211,576.5v30M1196,620.5h30M1211,605.5v30M1230,620.5h30M1245,605.5v30M1254,613h30M1269,598v30M1287,613h30M1302,598v30M1303,630.7h30M1318,615.7v30M1340.6,612.6h30M1355.6,597.6v30M1361.7,531h30M1376.7,516v30M1403.8,568h30M1418.8,553v30M1239,633.6h30M1254,618.6v30M1167.8,645h30M1182.8,630v30M1128.6,638h30M1143.6,623v30M1141.6,645h30M1156.6,630v30M1442.7,445.6h30M1457.7,430.6v30M1425.3,481.5h30M1440.3,466.5v30M1479.5,472h30M1494.5,457v30M1428.5,506.5h30M1443.5,491.5v30M1465,550.5h30M1480,535.5v30M1435.5,581.5h30M1450.5,566.5v30M1491,597h30M1506,582v30M1459.5,608h30M1474.5,593v30M1527.5,614h30M1542.5,599v30M1472.5,616.5h30M1487.5,601.5v30M1465,644h30M1480,629v30M1462,632.5h30M1477,617.5v30"/>
</g>
<g fill="none" stroke="#000" stroke-width="4.2" stroke-linejoin="miter">
<path d="M1670,310.8l9.5,16.2h-19ZM1604.5,359.8l9.5,16.2h-19ZM1574,428.3l9.5,16.2h-19ZM1658,419.8l9.5,16.2h-19ZM1498,441.8l9.5,16.2h-19ZM1544,456.8l9.5,16.2h-19ZM1596,451.8l9.5,16.2h-19ZM1604.5,464.8l9.5,16.2h-19ZM1575,476.8l9.5,16.2h-19ZM1622,476.8l9.5,16.2h-19ZM1638,476.8l9.5,16.2h-19ZM1523.5,489.8l9.5,16.2h-19ZM1554.5,486.8l9.5,16.2h-19ZM1593,494.8l9.5,16.2h-19ZM1652.5,498.8l9.5,16.2h-19ZM1503,525.8l9.5,16.2h-19ZM1622,530.8l9.5,16.2h-19ZM1652,515.8l9.5,16.2h-19ZM1672,517.8l9.5,16.2h-19ZM1697.5,519.8l9.5,16.2h-19ZM1629.5,548.3l9.5,16.2h-19ZM1680.7,542.3l9.5,16.2h-19ZM1619,575.8l9.5,16.2h-19ZM1590,585.3l9.5,16.2h-19ZM1527,568.8l9.5,16.2h-19ZM1531,534.8l9.5,16.2h-19ZM1689,568.8l9.5,16.2h-19ZM1627,612.3l9.5,16.2h-19ZM1580,503.8l9.5,16.2h-19Z"/>
</g>
<g fill="none" stroke="#000" stroke-width="6.4">
<path d="M1702.5,224.5h19v19h-19ZM1862.5,252.5h19v19h-19ZM1886.5,251.5h19v19h-19ZM1906.5,239.5h19v19h-19ZM1798.5,276.5h19v19h-19ZM1825.5,292.5h19v19h-19ZM1850.5,307.5h19v19h-19ZM1932.5,282.5h19v19h-19ZM1929.5,305.5h19v19h-19ZM1898.5,309.5h19v19h-19ZM1858.5,334.5h19v19h-19ZM1889.5,329.5h19v19h-19ZM1918.5,325.5h19v19h-19ZM1788.5,342.5h19v19h-19ZM1888.5,352.5h19v19h-19ZM1800.5,374.5h19v19h-19ZM1833.5,374.5h19v19h-19ZM1873.5,377.5h19v19h-19ZM1782.5,415.5h19v19h-19ZM1815.5,423.5h19v19h-19ZM1843.5,412.5h19v19h-19ZM1772.5,441.5h19v19h-19ZM1801.5,444.5h19v19h-19Z"/>
</g>
<g fill="none" stroke="#000" stroke-width="5.1" stroke-linejoin="miter">
<path d="M1629.5,722.5l10,10l-10,10l-10,-10ZM1720.8,718.8l10,10l-10,10l-10,-10ZM1499.5,737.5l10,10l-10,10l-10,-10ZM1680.8,723.8l10,10l-10,10l-10,-10ZM1663.2,737.5l10,10l-10,10l-10,-10ZM1693.2,733.8l10,10l-10,10l-10,-10ZM1712,740l10,10l-10,10l-10,-10ZM1468.2,750l10,10l-10,10l-10,-10ZM1502,757.5l10,10l-10,10l-10,-10ZM1575.8,747.5l10,10l-10,10l-10,-10ZM1625.8,747.5l10,10l-10,10l-10,-10ZM1552,763.8l10,10l-10,10l-10,-10ZM1578.2,766.2l10,10l-10,10l-10,-10ZM1654.5,758.8l10,10l-10,10l-10,-10ZM1680.8,757.5l10,10l-10,10l-10,-10ZM1733.2,753.8l10,10l-10,10l-10,-10ZM1767,756.2l10,10l-10,10l-10,-10ZM1698.2,765l10,10l-10,10l-10,-10ZM1722,763.8l10,10l-10,10l-10,-10ZM1752,770l10,10l-10,10l-10,-10ZM1467,772.5l10,10l-10,10l-10,-10ZM1527,778.8l10,10l-10,10l-10,-10ZM1604.5,778.8l10,10l-10,10l-10,-10ZM1647,772.5l10,10l-10,10l-10,-10ZM1669.5,780l10,10l-10,10l-10,-10ZM1454.5,783.8l10,10l-10,10l-10,-10ZM1487,793.8l10,10l-10,10l-10,-10ZM1544.5,795l10,10l-10,10l-10,-10ZM1572,786.2l10,10l-10,10l-10,-10ZM1513.2,805l10,10l-10,10l-10,-10ZM1574.5,800l10,10l-10,10l-10,-10ZM1668.2,796.2l10,10l-10,10l-10,-10ZM1735.8,796.2l10,10l-10,10l-10,-10ZM1488.2,831.2l10,10l-10,10l-10,-10ZM1520.8,838.8l10,10l-10,10l-10,-10ZM1537,820l10,10l-10,10l-10,-10ZM1554.5,820l10,10l-10,10l-10,-10ZM1573.2,820l10,10l-10,10l-10,-10ZM1544.5,837.5l10,10l-10,10l-10,-10ZM1612,822.5l10,10l-10,10l-10,-10ZM1610.8,807.5l10,10l-10,10l-10,-10ZM1660.8,848.8l10,10l-10,10l-10,-10ZM1635.8,862.5l10,10l-10,10l-10,-10ZM1737,828.8l10,10l-10,10l-10,-10ZM1757,845l10,10l-10,10l-10,-10ZM1767,867.5l10,10l-10,10l-10,-10ZM1463.2,884.5l10,10l-10,10l-10,-10ZM1534.5,877.5l10,10l-10,10l-10,-10ZM1548.2,886.2l10,10l-10,10l-10,-10ZM1514.5,899.5l10,10l-10,10l-10,-10ZM1490.2,908.8l10,10l-10,10l-10,-10ZM1604,912.5l10,10l-10,10l-10,-10Z"/>
</g>
<text class="lt" transform="translate(1387.5,620.5) scale(0.963,1)" font-size="95.5" text-anchor="middle" fill="#ff0000">A</text>
<text class="lt" transform="translate(1630.2,464) scale(0.963,1)" font-size="95.5" text-anchor="middle" fill="#ff0000">B</text>
<text class="lt" transform="translate(1746.5,400) scale(0.963,1)" font-size="95.5" text-anchor="middle" fill="#ff0000">C</text>
<text class="lt" transform="translate(1616,864) scale(0.963,1)" font-size="95.5" text-anchor="middle" fill="#ffff00">D</text>
<text class="lt" transform="translate(763,525) scale(0.963,1)" font-size="95.5" text-anchor="middle" fill="#ffff00">E</text>
<g fill="none" stroke="#000" stroke-width="2.4" stroke-linejoin="round" stroke-linecap="round">
<path d="M1964.8,1235 V833.8 H2290"/>
<path d="M1964.8,866.1 L1980.7,872.2 L1996.1,875.3 L2005.3,870.7 L2020.7,876.9 L2031.4,875.3 L2033,890.7 L2039.1,896.8 L2042.2,893.8 L2039.1,886.1 L2051.4,879.9 L2072.9,872.2 L2088.3,873.8 L2103.7,863 L2108.3,850.7 L2115.9,860 L2131.3,853.8 L2149.8,850.7 L2168.2,847.7 L2178.9,838.4 L2189.7,834.8" stroke-width="2.5"/>
<path d="M2006.9,921.4 L2014.5,909.1 L2029.9,903 L2048.3,900.5 L2057.6,907.6 L2048.3,918.3 L2039.1,926 L2026.8,935.2 L2013,932.2 L2006.9,921.4" stroke-width="2.5"/>
<path d="M2245,834.8 L2243.5,846.1 L2252.7,855.3 L2260.4,866.1 L2263.5,853.8 L2269.6,841.5 L2272.7,834.8" stroke-width="2.5"/>
<path d="M2266.5,889.1 L2288,866.1" stroke-width="2.5"/>
<path d="M2234.3,938.3 L2252.7,907.6" stroke-width="2.5"/>
<path d="M2232.7,990.6 L2232.7,953.7" stroke-width="2.5"/>
<path d="M2220.4,1064.3 L2232.7,1032" stroke-width="2.5"/>
<path d="M2159,1128.9 L2178.9,1107.3" stroke-width="2.5"/>
<path d="M2066.8,1194.9 L2088.3,1193.4 L2109.8,1185.7" stroke-width="2.5"/>
<path d="M1996.1,1124.2 L1997.6,1155" stroke-width="2.5"/>
<path d="M2042.2,1029 L2043.7,1045.9 L2039.1,1058.2 L2035.4,1060.3" stroke-width="2.5"/>
<path d="M2008.4,961.4 L2039.1,988.4" stroke-width="2.5"/>
<ellipse cx="2126.7" cy="975.2" rx="12" ry="7.5" stroke-width="3" stroke-dasharray="4 3.5" transform="rotate(-15 2126.7 975.2)"/>
</g>
<g fill="#000">
<circle cx="2177.4" cy="889.1" r="3"/>
<circle cx="2066.2" cy="952.8" r="3"/>
<circle cx="2082.1" cy="955.2" r="3"/>
<circle cx="2069.2" cy="966" r="3"/>
<circle cx="2088.3" cy="971.2" r="3"/>
<circle cx="2200.5" cy="983.8" r="3"/>
<circle cx="2148.8" cy="1000.7" r="3"/>
<circle cx="2131.3" cy="1056.6" r="3"/>
<circle cx="2125.2" cy="1059.7" r="3"/>
<circle cx="2137.5" cy="1062.8" r="3"/>
<circle cx="2129.8" cy="1072" r="3"/>
<circle cx="2129.8" cy="1081.2" r="3"/>
<circle cx="2149.8" cy="1072.6" r="3"/>
<circle cx="2161.4" cy="1064.3" r="3"/>
<circle cx="2164.5" cy="1081.2" r="3"/>
<circle cx="2153.7" cy="1088" r="3"/>
<circle cx="2177.4" cy="1079.7" r="3"/>
<circle cx="2186.6" cy="1085.8" r="3"/>
<circle cx="2172.2" cy="1096" r="3"/>
<circle cx="2121.2" cy="1098.4" r="3"/>
<circle cx="2098.4" cy="1083.7" r="3"/>
<circle cx="2071.4" cy="1101.2" r="3"/>
<circle cx="2082.1" cy="1096.6" r="3"/>
<circle cx="2107.3" cy="1109.5" r="3"/>
<circle cx="2134.4" cy="1110.4" r="3"/>
<circle cx="2071.4" cy="1116.6" r="3"/>
<circle cx="2082.1" cy="1161.1" r="3"/>
<circle cx="2092" cy="1158" r="3"/>
<circle cx="2080" cy="1185.7" r="3"/>
<circle cx="2092.9" cy="1186.3" r="3"/>
<circle cx="2101.2" cy="1185.1" r="3"/>
<circle cx="2069.2" cy="961.4" r="3"/>
<circle cx="2134.4" cy="1052" r="3"/>
<circle cx="2126.7" cy="1065.9" r="3"/>
<circle cx="2074.5" cy="1102.1" r="3"/>
</g>
<text class="ax" transform="translate(221.3,204.8) scale(0.958,1)" font-size="88.7" text-anchor="end">50°N</text>
<text class="ax" transform="translate(221.3,530.3) scale(0.958,1)" font-size="88.7" text-anchor="end">40°N</text>
<text class="ax" transform="translate(221.3,856) scale(0.958,1)" font-size="88.7" text-anchor="end">30°N</text>
<text class="ax" transform="translate(221.3,1181.7) scale(0.958,1)" font-size="88.7" text-anchor="end">20°N</text>
<text class="ax" transform="translate(466.5,1370) scale(0.972,1)" font-size="96.7" text-anchor="middle">80°E</text>
<text class="ax" transform="translate(792.5,1370) scale(0.972,1)" font-size="96.7" text-anchor="middle">90°E</text>
<text class="ax" transform="translate(1117.5,1370) scale(0.972,1)" font-size="96.7" text-anchor="middle">100°E</text>
<text class="ax" transform="translate(1442.5,1370) scale(0.972,1)" font-size="96.7" text-anchor="middle">110°E</text>
<text class="ax" transform="translate(1768.5,1370) scale(0.972,1)" font-size="96.7" text-anchor="middle">120°E</text>
<text class="ax" transform="translate(2094.5,1370) scale(0.972,1)" font-size="96.7" text-anchor="middle">130°E</text>
<g fill="#fff">
<rect x="994" y="1360.5" width="18.6" height="11"/>
<rect x="1021.4" y="1360.5" width="17.5" height="11"/>
<rect x="1323" y="1360.5" width="17.6" height="11"/>
<rect x="1349.4" y="1360.5" width="17.5" height="11"/>
<rect x="1368" y="1360.5" width="17.6" height="11"/>
<rect x="1395.4" y="1360.5" width="16.5" height="11"/>
<rect x="1645" y="1360.5" width="18.6" height="11"/>
<rect x="1672.4" y="1360.5" width="17.5" height="11"/>
<rect x="1971" y="1360.5" width="18.6" height="11"/>
<rect x="1998.4" y="1360.5" width="17.5" height="11"/>
</g>
</svg>
</body>
</html>
